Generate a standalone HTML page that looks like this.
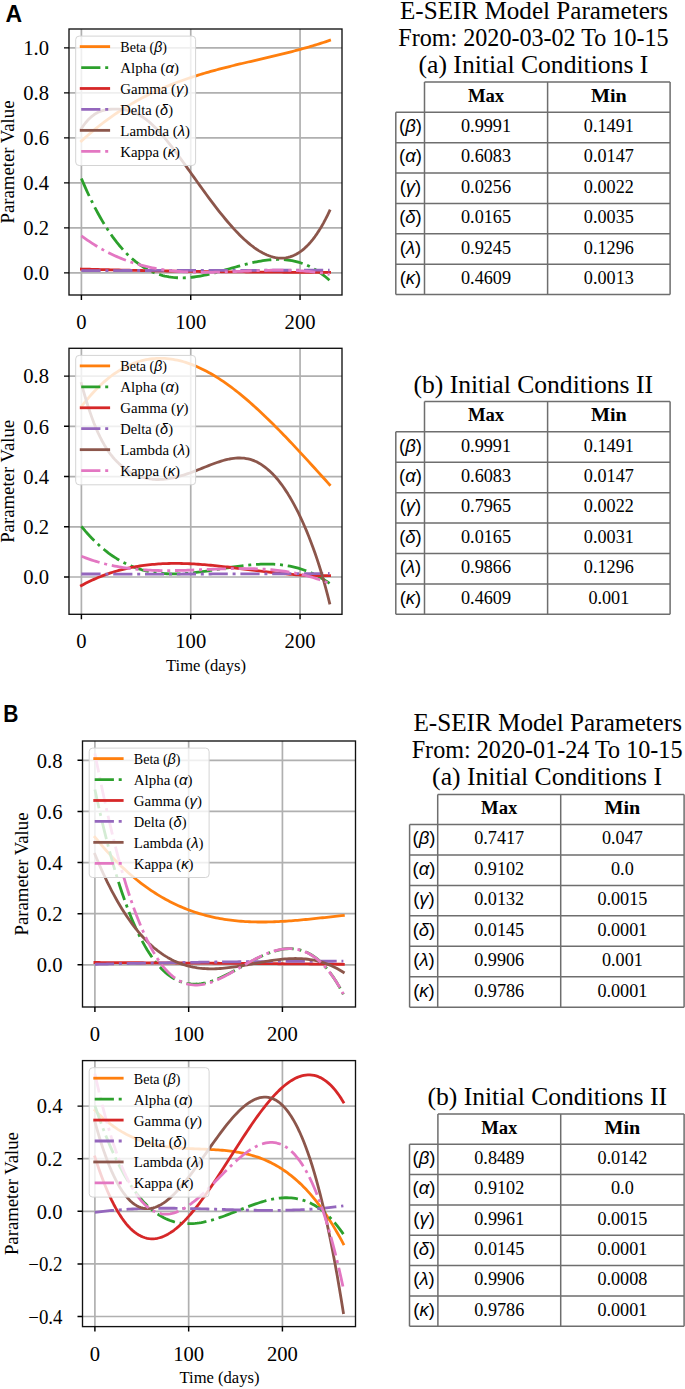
<!DOCTYPE html><html><head><meta charset="utf-8"><style>html,body{margin:0;padding:0;background:#fff;overflow:hidden;width:685px;height:1389px}svg{display:block}</style></head><body><svg width="685" height="1389" viewBox="0 0 685 1389">
<rect width="685" height="1389" fill="#fff"/>
<clipPath id="clip1"><rect x="69" y="29" width="273" height="266"/></clipPath>
<path d="M81.40 29V295M190.73 29V295M300.06 29V295M69 272.85H342M69 227.85H342M69 182.85H342M69 137.85H342M69 92.85H342M69 47.85H342" stroke="#b0b0b0" stroke-width="1.7" fill="none" clip-path="url(#clip1)"/>
<g clip-path="url(#clip1)" fill="none" stroke-width="2.8">
<path d="M81.40 141.07 L83.49 139.17 L85.57 137.30 L87.66 135.46 L89.74 133.66 L91.83 131.89 L93.91 130.15 L96.00 128.45 L98.08 126.77 L100.17 125.13 L102.26 123.51 L104.34 121.93 L106.43 120.37 L108.51 118.85 L110.60 117.35 L112.68 115.88 L114.77 114.44 L116.85 113.03 L118.94 111.65 L121.03 110.29 L123.11 108.95 L125.20 107.65 L127.28 106.37 L129.37 105.11 L131.45 103.88 L133.54 102.67 L135.62 101.49 L137.71 100.33 L139.80 99.20 L141.88 98.08 L143.97 96.99 L146.05 95.92 L148.14 94.88 L150.22 93.85 L152.31 92.84 L154.39 91.86 L156.48 90.89 L158.56 89.95 L160.65 89.02 L162.74 88.11 L164.82 87.22 L166.91 86.35 L168.99 85.50 L171.08 84.66 L173.16 83.84 L175.25 83.04 L177.33 82.25 L179.42 81.47 L181.51 80.72 L183.59 79.97 L185.68 79.24 L187.76 78.53 L189.85 77.83 L191.93 77.14 L194.02 76.46 L196.10 75.80 L198.19 75.15 L200.28 74.51 L202.36 73.88 L204.45 73.26 L206.53 72.65 L208.62 72.05 L210.70 71.46 L212.79 70.88 L214.87 70.31 L216.96 69.75 L219.05 69.19 L221.13 68.65 L223.22 68.11 L225.30 67.57 L227.39 67.04 L229.47 66.52 L231.56 66.00 L233.64 65.49 L235.73 64.98 L237.82 64.48 L239.90 63.98 L241.99 63.49 L244.07 62.99 L246.16 62.50 L248.24 62.01 L250.33 61.53 L252.41 61.04 L254.50 60.56 L256.59 60.08 L258.67 59.59 L260.76 59.11 L262.84 58.62 L264.93 58.14 L267.01 57.65 L269.10 57.16 L271.18 56.67 L273.27 56.18 L275.36 55.68 L277.44 55.18 L279.53 54.68 L281.61 54.17 L283.70 53.66 L285.78 53.14 L287.87 52.62 L289.95 52.09 L292.04 51.55 L294.12 51.01 L296.21 50.46 L298.30 49.91 L300.38 49.34 L302.47 48.77 L304.55 48.19 L306.64 47.60 L308.72 47.00 L310.81 46.39 L312.89 45.76 L314.98 45.13 L317.07 44.49 L319.15 43.84 L321.24 43.17 L323.32 42.49 L325.41 41.80 L327.49 41.10 L329.58 40.38" stroke="#ff7f0e" stroke-linecap="square" stroke-linejoin="round"/>
<path d="M81.40 178.43 L83.49 183.35 L85.57 188.10 L87.66 192.71 L89.74 197.16 L91.83 201.47 L93.91 205.63 L96.00 209.65 L98.08 213.53 L100.17 217.26 L102.26 220.86 L104.34 224.33 L106.43 227.66 L108.51 230.86 L110.60 233.93 L112.68 236.88 L114.77 239.70 L116.85 242.40 L118.94 244.99 L121.03 247.45 L123.11 249.80 L125.20 252.04 L127.28 254.17 L129.37 256.18 L131.45 258.09 L133.54 259.90 L135.62 261.61 L137.71 263.22 L139.80 264.72 L141.88 266.14 L143.97 267.46 L146.05 268.69 L148.14 269.83 L150.22 270.89 L152.31 271.86 L154.39 272.75 L156.48 273.56 L158.56 274.29 L160.65 274.94 L162.74 275.53 L164.82 276.04 L166.91 276.48 L168.99 276.86 L171.08 277.17 L173.16 277.42 L175.25 277.61 L177.33 277.75 L179.42 277.82 L181.51 277.85 L183.59 277.82 L185.68 277.74 L187.76 277.62 L189.85 277.45 L191.93 277.25 L194.02 277.00 L196.10 276.71 L198.19 276.39 L200.28 276.03 L202.36 275.64 L204.45 275.22 L206.53 274.78 L208.62 274.31 L210.70 273.82 L212.79 273.31 L214.87 272.78 L216.96 272.24 L219.05 271.68 L221.13 271.11 L223.22 270.53 L225.30 269.94 L227.39 269.35 L229.47 268.76 L231.56 268.16 L233.64 267.57 L235.73 266.98 L237.82 266.40 L239.90 265.83 L241.99 265.26 L244.07 264.71 L246.16 264.18 L248.24 263.66 L250.33 263.16 L252.41 262.69 L254.50 262.23 L256.59 261.81 L258.67 261.41 L260.76 261.04 L262.84 260.70 L264.93 260.40 L267.01 260.14 L269.10 259.92 L271.18 259.73 L273.27 259.59 L275.36 259.50 L277.44 259.45 L279.53 259.46 L281.61 259.52 L283.70 259.63 L285.78 259.80 L287.87 260.03 L289.95 260.32 L292.04 260.67 L294.12 261.09 L296.21 261.58 L298.30 262.13 L300.38 262.76 L302.47 263.47 L304.55 264.25 L306.64 265.11 L308.72 266.05 L310.81 267.07 L312.89 268.18 L314.98 269.38 L317.07 270.67 L319.15 272.04 L321.24 273.52 L323.32 275.09 L325.41 276.76 L327.49 278.53 L329.58 280.40" stroke="#2ca02c" stroke-dasharray="19.2 4.8 3 4.8" stroke-linecap="butt" stroke-linejoin="round"/>
<path d="M81.40 269.03 L83.49 269.10 L85.57 269.16 L87.66 269.21 L89.74 269.27 L91.83 269.33 L93.91 269.39 L96.00 269.45 L98.08 269.50 L100.17 269.56 L102.26 269.61 L104.34 269.66 L106.43 269.72 L108.51 269.77 L110.60 269.82 L112.68 269.87 L114.77 269.92 L116.85 269.97 L118.94 270.02 L121.03 270.07 L123.11 270.12 L125.20 270.17 L127.28 270.21 L129.37 270.26 L131.45 270.31 L133.54 270.35 L135.62 270.39 L137.71 270.44 L139.80 270.48 L141.88 270.52 L143.97 270.57 L146.05 270.61 L148.14 270.65 L150.22 270.69 L152.31 270.73 L154.39 270.77 L156.48 270.80 L158.56 270.84 L160.65 270.88 L162.74 270.92 L164.82 270.95 L166.91 270.99 L168.99 271.02 L171.08 271.06 L173.16 271.09 L175.25 271.13 L177.33 271.16 L179.42 271.19 L181.51 271.22 L183.59 271.25 L185.68 271.28 L187.76 271.32 L189.85 271.35 L191.93 271.37 L194.02 271.40 L196.10 271.43 L198.19 271.46 L200.28 271.49 L202.36 271.51 L204.45 271.54 L206.53 271.57 L208.62 271.59 L210.70 271.62 L212.79 271.64 L214.87 271.67 L216.96 271.69 L219.05 271.71 L221.13 271.74 L223.22 271.76 L225.30 271.78 L227.39 271.80 L229.47 271.82 L231.56 271.84 L233.64 271.86 L235.73 271.88 L237.82 271.90 L239.90 271.92 L241.99 271.94 L244.07 271.96 L246.16 271.98 L248.24 271.99 L250.33 272.01 L252.41 272.03 L254.50 272.04 L256.59 272.06 L258.67 272.07 L260.76 272.09 L262.84 272.10 L264.93 272.12 L267.01 272.13 L269.10 272.15 L271.18 272.16 L273.27 272.17 L275.36 272.19 L277.44 272.20 L279.53 272.21 L281.61 272.22 L283.70 272.23 L285.78 272.24 L287.87 272.26 L289.95 272.27 L292.04 272.28 L294.12 272.29 L296.21 272.29 L298.30 272.30 L300.38 272.31 L302.47 272.32 L304.55 272.33 L306.64 272.34 L308.72 272.35 L310.81 272.35 L312.89 272.36 L314.98 272.37 L317.07 272.37 L319.15 272.38 L321.24 272.39 L323.32 272.39 L325.41 272.40 L327.49 272.40 L329.58 272.41" stroke="#d62728" stroke-linecap="square" stroke-linejoin="round"/>
<path d="M81.40 270.60 L83.49 270.60 L85.57 270.59 L87.66 270.59 L89.74 270.59 L91.83 270.58 L93.91 270.58 L96.00 270.57 L98.08 270.57 L100.17 270.57 L102.26 270.56 L104.34 270.56 L106.43 270.55 L108.51 270.55 L110.60 270.55 L112.68 270.54 L114.77 270.54 L116.85 270.54 L118.94 270.53 L121.03 270.53 L123.11 270.52 L125.20 270.52 L127.28 270.52 L129.37 270.51 L131.45 270.51 L133.54 270.51 L135.62 270.50 L137.71 270.50 L139.80 270.49 L141.88 270.49 L143.97 270.49 L146.05 270.48 L148.14 270.48 L150.22 270.48 L152.31 270.47 L154.39 270.47 L156.48 270.46 L158.56 270.46 L160.65 270.46 L162.74 270.45 L164.82 270.45 L166.91 270.45 L168.99 270.44 L171.08 270.44 L173.16 270.43 L175.25 270.43 L177.33 270.43 L179.42 270.42 L181.51 270.42 L183.59 270.42 L185.68 270.41 L187.76 270.41 L189.85 270.40 L191.93 270.40 L194.02 270.40 L196.10 270.39 L198.19 270.39 L200.28 270.39 L202.36 270.38 L204.45 270.38 L206.53 270.37 L208.62 270.37 L210.70 270.37 L212.79 270.36 L214.87 270.36 L216.96 270.36 L219.05 270.35 L221.13 270.35 L223.22 270.34 L225.30 270.34 L227.39 270.34 L229.47 270.33 L231.56 270.33 L233.64 270.32 L235.73 270.32 L237.82 270.32 L239.90 270.31 L241.99 270.31 L244.07 270.31 L246.16 270.30 L248.24 270.30 L250.33 270.29 L252.41 270.29 L254.50 270.29 L256.59 270.28 L258.67 270.28 L260.76 270.28 L262.84 270.27 L264.93 270.27 L267.01 270.26 L269.10 270.26 L271.18 270.26 L273.27 270.25 L275.36 270.25 L277.44 270.25 L279.53 270.24 L281.61 270.24 L283.70 270.23 L285.78 270.23 L287.87 270.23 L289.95 270.22 L292.04 270.22 L294.12 270.21 L296.21 270.21 L298.30 270.21 L300.38 270.20 L302.47 270.20 L304.55 270.20 L306.64 270.19 L308.72 270.19 L310.81 270.18 L312.89 270.18 L314.98 270.18 L317.07 270.17 L319.15 270.17 L321.24 270.17 L323.32 270.16 L325.41 270.16 L327.49 270.15 L329.58 270.15" stroke="#9467bd" stroke-dasharray="19.2 4.8 3 4.8" stroke-linecap="butt" stroke-linejoin="round"/>
<path d="M81.40 128.61 L83.49 125.51 L85.57 122.75 L87.66 120.31 L89.74 118.19 L91.83 116.34 L93.91 114.77 L96.00 113.44 L98.08 112.33 L100.17 111.42 L102.26 110.70 L104.34 110.14 L106.43 109.73 L108.51 109.43 L110.60 109.24 L112.68 109.13 L114.77 109.08 L116.85 109.09 L118.94 109.18 L121.03 109.33 L123.11 109.58 L125.20 109.90 L127.28 110.33 L129.37 110.85 L131.45 111.48 L133.54 112.23 L135.62 113.09 L137.71 114.09 L139.80 115.21 L141.88 116.47 L143.97 117.87 L146.05 119.41 L148.14 121.06 L150.22 122.84 L152.31 124.74 L154.39 126.74 L156.48 128.84 L158.56 131.04 L160.65 133.33 L162.74 135.70 L164.82 138.16 L166.91 140.68 L168.99 143.27 L171.08 145.93 L173.16 148.63 L175.25 151.39 L177.33 154.18 L179.42 157.02 L181.51 159.88 L183.59 162.77 L185.68 165.68 L187.76 168.60 L189.85 171.52 L191.93 174.45 L194.02 177.38 L196.10 180.30 L198.19 183.22 L200.28 186.12 L202.36 189.01 L204.45 191.88 L206.53 194.74 L208.62 197.57 L210.70 200.37 L212.79 203.15 L214.87 205.89 L216.96 208.60 L219.05 211.27 L221.13 213.89 L223.22 216.48 L225.30 219.01 L227.39 221.50 L229.47 223.93 L231.56 226.30 L233.64 228.62 L235.73 230.87 L237.82 233.05 L239.90 235.17 L241.99 237.21 L244.07 239.18 L246.16 241.07 L248.24 242.87 L250.33 244.60 L252.41 246.23 L254.50 247.78 L256.59 249.23 L258.67 250.58 L260.76 251.84 L262.84 252.99 L264.93 254.03 L267.01 254.97 L269.10 255.79 L271.18 256.50 L273.27 257.08 L275.36 257.54 L277.44 257.87 L279.53 258.07 L281.61 258.12 L283.70 258.04 L285.78 257.80 L287.87 257.42 L289.95 256.87 L292.04 256.17 L294.12 255.30 L296.21 254.26 L298.30 253.05 L300.38 251.66 L302.47 250.09 L304.55 248.32 L306.64 246.37 L308.72 244.22 L310.81 241.87 L312.89 239.32 L314.98 236.55 L317.07 233.58 L319.15 230.38 L321.24 226.96 L323.32 223.32 L325.41 219.44 L327.49 215.33 L329.58 210.97" stroke="#8c564b" stroke-linecap="square" stroke-linejoin="round"/>
<path d="M81.40 235.79 L83.49 237.33 L85.57 238.83 L87.66 240.29 L89.74 241.71 L91.83 243.09 L93.91 244.43 L96.00 245.72 L98.08 246.98 L100.17 248.20 L102.26 249.38 L104.34 250.53 L106.43 251.64 L108.51 252.71 L110.60 253.74 L112.68 254.74 L114.77 255.71 L116.85 256.64 L118.94 257.54 L121.03 258.40 L123.11 259.23 L125.20 260.03 L127.28 260.80 L129.37 261.54 L131.45 262.25 L133.54 262.93 L135.62 263.58 L137.71 264.20 L139.80 264.79 L141.88 265.36 L143.97 265.90 L146.05 266.41 L148.14 266.90 L150.22 267.36 L152.31 267.79 L154.39 268.21 L156.48 268.60 L158.56 268.96 L160.65 269.31 L162.74 269.63 L164.82 269.93 L166.91 270.21 L168.99 270.47 L171.08 270.71 L173.16 270.94 L175.25 271.14 L177.33 271.33 L179.42 271.49 L181.51 271.65 L183.59 271.78 L185.68 271.90 L187.76 272.01 L189.85 272.10 L191.93 272.17 L194.02 272.23 L196.10 272.28 L198.19 272.32 L200.28 272.35 L202.36 272.36 L204.45 272.37 L206.53 272.36 L208.62 272.35 L210.70 272.32 L212.79 272.29 L214.87 272.25 L216.96 272.20 L219.05 272.15 L221.13 272.09 L223.22 272.02 L225.30 271.95 L227.39 271.87 L229.47 271.79 L231.56 271.71 L233.64 271.63 L235.73 271.54 L237.82 271.45 L239.90 271.36 L241.99 271.27 L244.07 271.18 L246.16 271.09 L248.24 271.00 L250.33 270.91 L252.41 270.83 L254.50 270.74 L256.59 270.67 L258.67 270.59 L260.76 270.52 L262.84 270.46 L264.93 270.40 L267.01 270.34 L269.10 270.30 L271.18 270.26 L273.27 270.22 L275.36 270.20 L277.44 270.19 L279.53 270.18 L281.61 270.19 L283.70 270.20 L285.78 270.23 L287.87 270.27 L289.95 270.32 L292.04 270.39 L294.12 270.47 L296.21 270.56 L298.30 270.66 L300.38 270.79 L302.47 270.92 L304.55 271.08 L306.64 271.25 L308.72 271.44 L310.81 271.64 L312.89 271.87 L314.98 272.11 L317.07 272.37 L319.15 272.66 L321.24 272.96 L323.32 273.29 L325.41 273.63 L327.49 274.00 L329.58 274.40" stroke="#e377c2" stroke-dasharray="19.2 4.8 3 4.8" stroke-linecap="butt" stroke-linejoin="round"/>
</g>
<rect x="69" y="29" width="273" height="266" fill="none" stroke="#111" stroke-width="1.35"/>
<path d="M81.40 295v5M190.73 295v5M300.06 295v5M69 272.85h-5M69 227.85h-5M69 182.85h-5M69 137.85h-5M69 92.85h-5M69 47.85h-5" stroke="#000" stroke-width="1.45"/>
<text x="81.40" y="329.00" font-family='"Liberation Serif", serif' font-size="20.6" text-anchor="middle">0</text>
<text x="190.73" y="329.00" font-family='"Liberation Serif", serif' font-size="20.6" text-anchor="middle">100</text>
<text x="300.06" y="329.00" font-family='"Liberation Serif", serif' font-size="20.6" text-anchor="middle">200</text>
<text x="49.00" y="280.15" font-family='"Liberation Serif", serif' font-size="20.6" text-anchor="end">0.0</text>
<text x="49.00" y="235.15" font-family='"Liberation Serif", serif' font-size="20.6" text-anchor="end">0.2</text>
<text x="49.00" y="190.15" font-family='"Liberation Serif", serif' font-size="20.6" text-anchor="end">0.4</text>
<text x="49.00" y="145.15" font-family='"Liberation Serif", serif' font-size="20.6" text-anchor="end">0.6</text>
<text x="49.00" y="100.15" font-family='"Liberation Serif", serif' font-size="20.6" text-anchor="end">0.8</text>
<text x="49.00" y="55.15" font-family='"Liberation Serif", serif' font-size="20.6" text-anchor="end">1.0</text>
<text transform="translate(14.1,162.0) rotate(-90)" font-family='"Liberation Serif", serif' font-size="18.3" text-anchor="middle" textLength="123" lengthAdjust="spacingAndGlyphs">Parameter Value</text>
<rect x="75.7" y="36.1" width="119.9" height="129.4" rx="3.5" fill="#fff" fill-opacity="0.8" stroke="#d4d4d4" stroke-width="1"/>
<path d="M81.2 46.60H108.7" stroke="#ff7f0e" stroke-width="2.8" stroke-linecap="square"/>
<text x="120.30000000000001" y="52.10" font-family='"Liberation Serif", serif' font-size="13.8" textLength="46.6" lengthAdjust="spacingAndGlyphs">Beta (<tspan font-family='"Liberation Sans", sans-serif' font-style="italic">β</tspan>)</text>
<path d="M81.2 67.54H108.7" stroke="#2ca02c" stroke-width="2.8" stroke-dasharray="19.2 4.8 3 4.8"/>
<text x="120.30000000000001" y="73.04" font-family='"Liberation Serif", serif' font-size="13.8" textLength="58.8" lengthAdjust="spacingAndGlyphs">Alpha (<tspan font-family='"Liberation Sans", sans-serif' font-style="italic">α</tspan>)</text>
<path d="M81.2 88.48H108.7" stroke="#d62728" stroke-width="2.8" stroke-linecap="square"/>
<text x="120.30000000000001" y="93.98" font-family='"Liberation Serif", serif' font-size="13.8" textLength="68.2" lengthAdjust="spacingAndGlyphs">Gamma (<tspan font-family='"Liberation Sans", sans-serif' font-style="italic">γ</tspan>)</text>
<path d="M81.2 109.42H108.7" stroke="#9467bd" stroke-width="2.8" stroke-dasharray="19.2 4.8 3 4.8"/>
<text x="120.30000000000001" y="114.92" font-family='"Liberation Serif", serif' font-size="13.8" textLength="52.7" lengthAdjust="spacingAndGlyphs">Delta (<tspan font-family='"Liberation Sans", sans-serif' font-style="italic">δ</tspan>)</text>
<path d="M81.2 130.36H108.7" stroke="#8c564b" stroke-width="2.8" stroke-linecap="square"/>
<text x="120.30000000000001" y="135.86" font-family='"Liberation Serif", serif' font-size="13.8" textLength="69.7" lengthAdjust="spacingAndGlyphs">Lambda (<tspan font-family='"Liberation Sans", sans-serif' font-style="italic">λ</tspan>)</text>
<path d="M81.2 151.30H108.7" stroke="#e377c2" stroke-width="2.8" stroke-dasharray="19.2 4.8 3 4.8"/>
<text x="120.30000000000001" y="156.80" font-family='"Liberation Serif", serif' font-size="13.8" textLength="59.8" lengthAdjust="spacingAndGlyphs">Kappa (<tspan font-family='"Liberation Sans", sans-serif' font-style="italic">κ</tspan>)</text>
<clipPath id="clip2"><rect x="69" y="348.3" width="273" height="266"/></clipPath>
<path d="M81.40 348.3V614.3M190.73 348.3V614.3M300.06 348.3V614.3M69 577.00H342M69 526.78H342M69 476.56H342M69 426.34H342M69 376.12H342" stroke="#b0b0b0" stroke-width="1.7" fill="none" clip-path="url(#clip2)"/>
<g clip-path="url(#clip2)" fill="none" stroke-width="2.8">
<path d="M81.40 406.65 L83.49 403.96 L85.57 401.36 L87.66 398.84 L89.74 396.41 L91.83 394.05 L93.91 391.79 L96.00 389.60 L98.08 387.49 L100.17 385.47 L102.26 383.52 L104.34 381.65 L106.43 379.86 L108.51 378.15 L110.60 376.52 L112.68 374.96 L114.77 373.47 L116.85 372.06 L118.94 370.72 L121.03 369.46 L123.11 368.27 L125.20 367.15 L127.28 366.10 L129.37 365.12 L131.45 364.21 L133.54 363.36 L135.62 362.59 L137.71 361.88 L139.80 361.24 L141.88 360.66 L143.97 360.15 L146.05 359.71 L148.14 359.32 L150.22 359.00 L152.31 358.74 L154.39 358.54 L156.48 358.40 L158.56 358.33 L160.65 358.31 L162.74 358.35 L164.82 358.44 L166.91 358.60 L168.99 358.80 L171.08 359.07 L173.16 359.39 L175.25 359.76 L177.33 360.18 L179.42 360.66 L181.51 361.19 L183.59 361.77 L185.68 362.40 L187.76 363.08 L189.85 363.81 L191.93 364.58 L194.02 365.40 L196.10 366.27 L198.19 367.19 L200.28 368.15 L202.36 369.15 L204.45 370.20 L206.53 371.29 L208.62 372.42 L210.70 373.59 L212.79 374.81 L214.87 376.06 L216.96 377.35 L219.05 378.68 L221.13 380.05 L223.22 381.46 L225.30 382.90 L227.39 384.37 L229.47 385.89 L231.56 387.43 L233.64 389.01 L235.73 390.62 L237.82 392.26 L239.90 393.93 L241.99 395.64 L244.07 397.37 L246.16 399.13 L248.24 400.92 L250.33 402.74 L252.41 404.58 L254.50 406.45 L256.59 408.34 L258.67 410.26 L260.76 412.20 L262.84 414.17 L264.93 416.15 L267.01 418.16 L269.10 420.19 L271.18 422.24 L273.27 424.31 L275.36 426.39 L277.44 428.50 L279.53 430.62 L281.61 432.75 L283.70 434.90 L285.78 437.07 L287.87 439.25 L289.95 441.45 L292.04 443.65 L294.12 445.87 L296.21 448.10 L298.30 450.34 L300.38 452.59 L302.47 454.85 L304.55 457.12 L306.64 459.39 L308.72 461.67 L310.81 463.96 L312.89 466.25 L314.98 468.54 L317.07 470.84 L319.15 473.15 L321.24 475.45 L323.32 477.76 L325.41 480.06 L327.49 482.37 L329.58 484.68" stroke="#ff7f0e" stroke-linecap="square" stroke-linejoin="round"/>
<path d="M81.40 526.37 L83.49 528.90 L85.57 531.36 L87.66 533.72 L89.74 536.01 L91.83 538.21 L93.91 540.33 L96.00 542.37 L98.08 544.33 L100.17 546.22 L102.26 548.03 L104.34 549.76 L106.43 551.43 L108.51 553.02 L110.60 554.54 L112.68 555.99 L114.77 557.37 L116.85 558.69 L118.94 559.94 L121.03 561.13 L123.11 562.25 L125.20 563.32 L127.28 564.32 L129.37 565.26 L131.45 566.15 L133.54 566.99 L135.62 567.76 L137.71 568.49 L139.80 569.16 L141.88 569.78 L143.97 570.35 L146.05 570.88 L148.14 571.35 L150.22 571.79 L152.31 572.17 L154.39 572.52 L156.48 572.82 L158.56 573.08 L160.65 573.31 L162.74 573.50 L164.82 573.65 L166.91 573.76 L168.99 573.84 L171.08 573.89 L173.16 573.91 L175.25 573.90 L177.33 573.86 L179.42 573.80 L181.51 573.71 L183.59 573.59 L185.68 573.45 L187.76 573.29 L189.85 573.11 L191.93 572.91 L194.02 572.69 L196.10 572.45 L198.19 572.20 L200.28 571.94 L202.36 571.66 L204.45 571.38 L206.53 571.08 L208.62 570.77 L210.70 570.46 L212.79 570.14 L214.87 569.82 L216.96 569.49 L219.05 569.16 L221.13 568.83 L223.22 568.50 L225.30 568.18 L227.39 567.85 L229.47 567.53 L231.56 567.22 L233.64 566.91 L235.73 566.62 L237.82 566.33 L239.90 566.05 L241.99 565.79 L244.07 565.54 L246.16 565.30 L248.24 565.08 L250.33 564.88 L252.41 564.70 L254.50 564.54 L256.59 564.40 L258.67 564.28 L260.76 564.19 L262.84 564.12 L264.93 564.08 L267.01 564.07 L269.10 564.09 L271.18 564.14 L273.27 564.22 L275.36 564.33 L277.44 564.48 L279.53 564.67 L281.61 564.89 L283.70 565.15 L285.78 565.46 L287.87 565.80 L289.95 566.19 L292.04 566.62 L294.12 567.09 L296.21 567.61 L298.30 568.18 L300.38 568.80 L302.47 569.47 L304.55 570.20 L306.64 570.97 L308.72 571.80 L310.81 572.69 L312.89 573.63 L314.98 574.64 L317.07 575.70 L319.15 576.82 L321.24 578.01 L323.32 579.26 L325.41 580.57 L327.49 581.95 L329.58 583.40" stroke="#2ca02c" stroke-dasharray="19.2 4.8 3 4.8" stroke-linecap="butt" stroke-linejoin="round"/>
<path d="M81.40 585.51 L83.49 584.40 L85.57 583.32 L87.66 582.28 L89.74 581.27 L91.83 580.30 L93.91 579.36 L96.00 578.45 L98.08 577.57 L100.17 576.72 L102.26 575.90 L104.34 575.12 L106.43 574.36 L108.51 573.64 L110.60 572.94 L112.68 572.27 L114.77 571.63 L116.85 571.02 L118.94 570.43 L121.03 569.88 L123.11 569.35 L125.20 568.84 L127.28 568.36 L129.37 567.91 L131.45 567.48 L133.54 567.07 L135.62 566.69 L137.71 566.33 L139.80 566.00 L141.88 565.69 L143.97 565.40 L146.05 565.13 L148.14 564.88 L150.22 564.66 L152.31 564.45 L154.39 564.27 L156.48 564.10 L158.56 563.96 L160.65 563.83 L162.74 563.72 L164.82 563.63 L166.91 563.55 L168.99 563.50 L171.08 563.46 L173.16 563.43 L175.25 563.42 L177.33 563.43 L179.42 563.45 L181.51 563.48 L183.59 563.53 L185.68 563.60 L187.76 563.67 L189.85 563.76 L191.93 563.86 L194.02 563.97 L196.10 564.10 L198.19 564.23 L200.28 564.38 L202.36 564.53 L204.45 564.70 L206.53 564.87 L208.62 565.05 L210.70 565.24 L212.79 565.44 L214.87 565.65 L216.96 565.86 L219.05 566.08 L221.13 566.31 L223.22 566.54 L225.30 566.77 L227.39 567.01 L229.47 567.26 L231.56 567.51 L233.64 567.76 L235.73 568.02 L237.82 568.28 L239.90 568.54 L241.99 568.80 L244.07 569.06 L246.16 569.33 L248.24 569.59 L250.33 569.86 L252.41 570.12 L254.50 570.38 L256.59 570.65 L258.67 570.91 L260.76 571.16 L262.84 571.42 L264.93 571.67 L267.01 571.92 L269.10 572.17 L271.18 572.41 L273.27 572.64 L275.36 572.87 L277.44 573.10 L279.53 573.32 L281.61 573.53 L283.70 573.73 L285.78 573.93 L287.87 574.12 L289.95 574.30 L292.04 574.48 L294.12 574.64 L296.21 574.79 L298.30 574.94 L300.38 575.07 L302.47 575.19 L304.55 575.30 L306.64 575.40 L308.72 575.49 L310.81 575.57 L312.89 575.63 L314.98 575.68 L317.07 575.71 L319.15 575.73 L321.24 575.73 L323.32 575.72 L325.41 575.70 L327.49 575.66 L329.58 575.60" stroke="#d62728" stroke-linecap="square" stroke-linejoin="round"/>
<path d="M81.40 573.99 L83.49 573.99 L85.57 574.00 L87.66 574.00 L89.74 574.00 L91.83 574.01 L93.91 574.01 L96.00 574.01 L98.08 574.02 L100.17 574.02 L102.26 574.02 L104.34 574.03 L106.43 574.03 L108.51 574.03 L110.60 574.03 L112.68 574.03 L114.77 574.04 L116.85 574.04 L118.94 574.04 L121.03 574.04 L123.11 574.04 L125.20 574.04 L127.28 574.05 L129.37 574.05 L131.45 574.05 L133.54 574.05 L135.62 574.05 L137.71 574.05 L139.80 574.05 L141.88 574.05 L143.97 574.05 L146.05 574.05 L148.14 574.05 L150.22 574.05 L152.31 574.05 L154.39 574.05 L156.48 574.05 L158.56 574.05 L160.65 574.05 L162.74 574.04 L164.82 574.04 L166.91 574.04 L168.99 574.04 L171.08 574.04 L173.16 574.04 L175.25 574.03 L177.33 574.03 L179.42 574.03 L181.51 574.03 L183.59 574.02 L185.68 574.02 L187.76 574.02 L189.85 574.02 L191.93 574.01 L194.02 574.01 L196.10 574.01 L198.19 574.00 L200.28 574.00 L202.36 573.99 L204.45 573.99 L206.53 573.99 L208.62 573.98 L210.70 573.98 L212.79 573.97 L214.87 573.97 L216.96 573.96 L219.05 573.96 L221.13 573.95 L223.22 573.95 L225.30 573.94 L227.39 573.94 L229.47 573.93 L231.56 573.92 L233.64 573.92 L235.73 573.91 L237.82 573.91 L239.90 573.90 L241.99 573.89 L244.07 573.89 L246.16 573.88 L248.24 573.87 L250.33 573.86 L252.41 573.86 L254.50 573.85 L256.59 573.84 L258.67 573.83 L260.76 573.83 L262.84 573.82 L264.93 573.81 L267.01 573.80 L269.10 573.79 L271.18 573.78 L273.27 573.78 L275.36 573.77 L277.44 573.76 L279.53 573.75 L281.61 573.74 L283.70 573.73 L285.78 573.72 L287.87 573.71 L289.95 573.70 L292.04 573.69 L294.12 573.68 L296.21 573.67 L298.30 573.66 L300.38 573.65 L302.47 573.64 L304.55 573.63 L306.64 573.62 L308.72 573.60 L310.81 573.59 L312.89 573.58 L314.98 573.57 L317.07 573.56 L319.15 573.55 L321.24 573.53 L323.32 573.52 L325.41 573.51 L327.49 573.50 L329.58 573.48" stroke="#9467bd" stroke-dasharray="19.2 4.8 3 4.8" stroke-linecap="butt" stroke-linejoin="round"/>
<path d="M81.40 383.55 L83.49 391.08 L85.57 398.24 L87.66 405.01 L89.74 411.39 L91.83 417.37 L93.91 422.94 L96.00 428.10 L98.08 432.85 L100.17 437.21 L102.26 441.23 L104.34 444.92 L106.43 448.33 L108.51 451.45 L110.60 454.33 L112.68 456.96 L114.77 459.37 L116.85 461.58 L118.94 463.60 L121.03 465.45 L123.11 467.15 L125.20 468.71 L127.28 470.15 L129.37 471.47 L131.45 472.68 L133.54 473.78 L135.62 474.77 L137.71 475.66 L139.80 476.45 L141.88 477.14 L143.97 477.73 L146.05 478.24 L148.14 478.65 L150.22 478.98 L152.31 479.23 L154.39 479.40 L156.48 479.49 L158.56 479.50 L160.65 479.45 L162.74 479.33 L164.82 479.14 L166.91 478.89 L168.99 478.58 L171.08 478.22 L173.16 477.81 L175.25 477.34 L177.33 476.83 L179.42 476.27 L181.51 475.68 L183.59 475.05 L185.68 474.38 L187.76 473.68 L189.85 472.95 L191.93 472.20 L194.02 471.42 L196.10 470.62 L198.19 469.81 L200.28 468.99 L202.36 468.15 L204.45 467.31 L206.53 466.47 L208.62 465.64 L210.70 464.82 L212.79 464.03 L214.87 463.25 L216.96 462.51 L219.05 461.80 L221.13 461.13 L223.22 460.51 L225.30 459.95 L227.39 459.44 L229.47 459.00 L231.56 458.63 L233.64 458.34 L235.73 458.13 L237.82 458.01 L239.90 457.98 L241.99 458.05 L244.07 458.23 L246.16 458.52 L248.24 458.93 L250.33 459.46 L252.41 460.11 L254.50 460.91 L256.59 461.84 L258.67 462.92 L260.76 464.15 L262.84 465.54 L264.93 467.09 L267.01 468.77 L269.10 470.59 L271.18 472.53 L273.27 474.60 L275.36 476.83 L277.44 479.22 L279.53 481.79 L281.61 484.54 L283.70 487.48 L285.78 490.60 L287.87 493.87 L289.95 497.30 L292.04 500.89 L294.12 504.66 L296.21 508.60 L298.30 512.72 L300.38 517.03 L302.47 521.53 L304.55 526.24 L306.64 531.16 L308.72 536.29 L310.81 541.64 L312.89 547.22 L314.98 553.04 L317.07 559.14 L319.15 565.53 L321.24 572.26 L323.32 579.35 L325.41 586.83 L327.49 594.73 L329.58 603.08" stroke="#8c564b" stroke-linecap="square" stroke-linejoin="round"/>
<path d="M81.40 556.21 L83.49 557.04 L85.57 557.84 L87.66 558.61 L89.74 559.35 L91.83 560.06 L93.91 560.74 L96.00 561.40 L98.08 562.02 L100.17 562.62 L102.26 563.19 L104.34 563.74 L106.43 564.26 L108.51 564.75 L110.60 565.22 L112.68 565.67 L114.77 566.09 L116.85 566.49 L118.94 566.87 L121.03 567.23 L123.11 567.56 L125.20 567.87 L127.28 568.17 L129.37 568.44 L131.45 568.69 L133.54 568.93 L135.62 569.15 L137.71 569.35 L139.80 569.53 L141.88 569.69 L143.97 569.84 L146.05 569.98 L148.14 570.10 L150.22 570.20 L152.31 570.29 L154.39 570.37 L156.48 570.44 L158.56 570.49 L160.65 570.53 L162.74 570.56 L164.82 570.58 L166.91 570.58 L168.99 570.58 L171.08 570.57 L173.16 570.55 L175.25 570.52 L177.33 570.49 L179.42 570.45 L181.51 570.40 L183.59 570.34 L185.68 570.28 L187.76 570.22 L189.85 570.15 L191.93 570.08 L194.02 570.00 L196.10 569.92 L198.19 569.84 L200.28 569.76 L202.36 569.68 L204.45 569.59 L206.53 569.51 L208.62 569.42 L210.70 569.34 L212.79 569.26 L214.87 569.18 L216.96 569.10 L219.05 569.03 L221.13 568.95 L223.22 568.89 L225.30 568.83 L227.39 568.77 L229.47 568.72 L231.56 568.68 L233.64 568.64 L235.73 568.61 L237.82 568.59 L239.90 568.57 L241.99 568.57 L244.07 568.57 L246.16 568.59 L248.24 568.61 L250.33 568.65 L252.41 568.69 L254.50 568.75 L256.59 568.83 L258.67 568.91 L260.76 569.01 L262.84 569.13 L264.93 569.25 L267.01 569.40 L269.10 569.56 L271.18 569.73 L273.27 569.93 L275.36 570.14 L277.44 570.37 L279.53 570.61 L281.61 570.88 L283.70 571.17 L285.78 571.47 L287.87 571.80 L289.95 572.15 L292.04 572.51 L294.12 572.91 L296.21 573.32 L298.30 573.76 L300.38 574.22 L302.47 574.71 L304.55 575.22 L306.64 575.75 L308.72 576.32 L310.81 576.90 L312.89 577.52 L314.98 578.16 L317.07 578.84 L319.15 579.54 L321.24 580.26 L323.32 581.02 L325.41 581.81 L327.49 582.63 L329.58 583.48" stroke="#e377c2" stroke-dasharray="19.2 4.8 3 4.8" stroke-linecap="butt" stroke-linejoin="round"/>
</g>
<rect x="69" y="348.3" width="273" height="266" fill="none" stroke="#111" stroke-width="1.35"/>
<path d="M81.40 614.3v5M190.73 614.3v5M300.06 614.3v5M69 577.00h-5M69 526.78h-5M69 476.56h-5M69 426.34h-5M69 376.12h-5" stroke="#000" stroke-width="1.45"/>
<text x="81.40" y="648.30" font-family='"Liberation Serif", serif' font-size="20.6" text-anchor="middle">0</text>
<text x="190.73" y="648.30" font-family='"Liberation Serif", serif' font-size="20.6" text-anchor="middle">100</text>
<text x="300.06" y="648.30" font-family='"Liberation Serif", serif' font-size="20.6" text-anchor="middle">200</text>
<text x="49.00" y="584.30" font-family='"Liberation Serif", serif' font-size="20.6" text-anchor="end">0.0</text>
<text x="49.00" y="534.08" font-family='"Liberation Serif", serif' font-size="20.6" text-anchor="end">0.2</text>
<text x="49.00" y="483.86" font-family='"Liberation Serif", serif' font-size="20.6" text-anchor="end">0.4</text>
<text x="49.00" y="433.64" font-family='"Liberation Serif", serif' font-size="20.6" text-anchor="end">0.6</text>
<text x="49.00" y="383.42" font-family='"Liberation Serif", serif' font-size="20.6" text-anchor="end">0.8</text>
<text transform="translate(14.1,481.3) rotate(-90)" font-family='"Liberation Serif", serif' font-size="18.3" text-anchor="middle" textLength="123" lengthAdjust="spacingAndGlyphs">Parameter Value</text>
<text x="206.0" y="670.60" font-family='"Liberation Serif", serif' font-size="16.1" text-anchor="middle" textLength="80" lengthAdjust="spacingAndGlyphs">Time (days)</text>
<rect x="75.7" y="355.40000000000003" width="119.9" height="129.4" rx="3.5" fill="#fff" fill-opacity="0.8" stroke="#d4d4d4" stroke-width="1"/>
<path d="M81.2 365.90H108.7" stroke="#ff7f0e" stroke-width="2.8" stroke-linecap="square"/>
<text x="120.30000000000001" y="371.40" font-family='"Liberation Serif", serif' font-size="13.8" textLength="46.6" lengthAdjust="spacingAndGlyphs">Beta (<tspan font-family='"Liberation Sans", sans-serif' font-style="italic">β</tspan>)</text>
<path d="M81.2 386.84H108.7" stroke="#2ca02c" stroke-width="2.8" stroke-dasharray="19.2 4.8 3 4.8"/>
<text x="120.30000000000001" y="392.34" font-family='"Liberation Serif", serif' font-size="13.8" textLength="58.8" lengthAdjust="spacingAndGlyphs">Alpha (<tspan font-family='"Liberation Sans", sans-serif' font-style="italic">α</tspan>)</text>
<path d="M81.2 407.78H108.7" stroke="#d62728" stroke-width="2.8" stroke-linecap="square"/>
<text x="120.30000000000001" y="413.28" font-family='"Liberation Serif", serif' font-size="13.8" textLength="68.2" lengthAdjust="spacingAndGlyphs">Gamma (<tspan font-family='"Liberation Sans", sans-serif' font-style="italic">γ</tspan>)</text>
<path d="M81.2 428.72H108.7" stroke="#9467bd" stroke-width="2.8" stroke-dasharray="19.2 4.8 3 4.8"/>
<text x="120.30000000000001" y="434.22" font-family='"Liberation Serif", serif' font-size="13.8" textLength="52.7" lengthAdjust="spacingAndGlyphs">Delta (<tspan font-family='"Liberation Sans", sans-serif' font-style="italic">δ</tspan>)</text>
<path d="M81.2 449.66H108.7" stroke="#8c564b" stroke-width="2.8" stroke-linecap="square"/>
<text x="120.30000000000001" y="455.16" font-family='"Liberation Serif", serif' font-size="13.8" textLength="69.7" lengthAdjust="spacingAndGlyphs">Lambda (<tspan font-family='"Liberation Sans", sans-serif' font-style="italic">λ</tspan>)</text>
<path d="M81.2 470.60H108.7" stroke="#e377c2" stroke-width="2.8" stroke-dasharray="19.2 4.8 3 4.8"/>
<text x="120.30000000000001" y="476.10" font-family='"Liberation Serif", serif' font-size="13.8" textLength="59.8" lengthAdjust="spacingAndGlyphs">Kappa (<tspan font-family='"Liberation Sans", sans-serif' font-style="italic">κ</tspan>)</text>
<clipPath id="clip3"><rect x="82.5" y="741.0" width="273" height="266"/></clipPath>
<path d="M94.90 741.0V1007.0M188.66 741.0V1007.0M282.42 741.0V1007.0M82.5 964.80H355.5M82.5 913.68H355.5M82.5 862.56H355.5M82.5 811.44H355.5M82.5 760.32H355.5" stroke="#b0b0b0" stroke-width="1.7" fill="none" clip-path="url(#clip3)"/>
<g clip-path="url(#clip3)" fill="none" stroke-width="2.8">
<path d="M94.90 837.10 L96.99 839.69 L99.08 842.22 L101.16 844.71 L103.25 847.14 L105.34 849.53 L107.43 851.87 L109.52 854.16 L111.60 856.40 L113.69 858.60 L115.78 860.75 L117.87 862.85 L119.96 864.90 L122.04 866.91 L124.13 868.88 L126.22 870.80 L128.31 872.68 L130.39 874.51 L132.48 876.30 L134.57 878.05 L136.66 879.75 L138.75 881.42 L140.83 883.04 L142.92 884.62 L145.01 886.16 L147.10 887.66 L149.19 889.12 L151.27 890.55 L153.36 891.93 L155.45 893.28 L157.54 894.59 L159.63 895.86 L161.71 897.09 L163.80 898.29 L165.89 899.45 L167.98 900.58 L170.07 901.67 L172.15 902.72 L174.24 903.75 L176.33 904.74 L178.42 905.69 L180.51 906.62 L182.59 907.51 L184.68 908.37 L186.77 909.20 L188.86 909.99 L190.94 910.76 L193.03 911.50 L195.12 912.21 L197.21 912.89 L199.30 913.54 L201.38 914.16 L203.47 914.75 L205.56 915.32 L207.65 915.86 L209.74 916.37 L211.82 916.86 L213.91 917.33 L216.00 917.76 L218.09 918.18 L220.18 918.57 L222.26 918.93 L224.35 919.28 L226.44 919.60 L228.53 919.89 L230.62 920.17 L232.70 920.43 L234.79 920.66 L236.88 920.87 L238.97 921.07 L241.06 921.24 L243.14 921.40 L245.23 921.54 L247.32 921.66 L249.41 921.76 L251.49 921.84 L253.58 921.91 L255.67 921.96 L257.76 922.00 L259.85 922.02 L261.93 922.02 L264.02 922.01 L266.11 921.99 L268.20 921.95 L270.29 921.90 L272.37 921.84 L274.46 921.77 L276.55 921.68 L278.64 921.58 L280.73 921.47 L282.81 921.36 L284.90 921.23 L286.99 921.09 L289.08 920.94 L291.17 920.79 L293.25 920.62 L295.34 920.45 L297.43 920.28 L299.52 920.09 L301.61 919.90 L303.69 919.70 L305.78 919.50 L307.87 919.29 L309.96 919.08 L312.05 918.87 L314.13 918.65 L316.22 918.43 L318.31 918.20 L320.40 917.98 L322.48 917.75 L324.57 917.52 L326.66 917.29 L328.75 917.06 L330.84 916.83 L332.92 916.60 L335.01 916.37 L337.10 916.14 L339.19 915.92 L341.28 915.70 L343.36 915.48" stroke="#ff7f0e" stroke-linecap="square" stroke-linejoin="round"/>
<path d="M94.90 789.49 L96.99 799.19 L99.08 808.57 L101.16 817.66 L103.25 826.44 L105.34 834.93 L107.43 843.13 L109.52 851.05 L111.60 858.68 L113.69 866.03 L115.78 873.12 L117.87 879.93 L119.96 886.48 L122.04 892.78 L124.13 898.81 L126.22 904.60 L128.31 910.14 L130.39 915.44 L132.48 920.50 L134.57 925.33 L136.66 929.93 L138.75 934.31 L140.83 938.47 L142.92 942.41 L145.01 946.15 L147.10 949.67 L149.19 953.00 L151.27 956.13 L153.36 959.06 L155.45 961.81 L157.54 964.37 L159.63 966.76 L161.71 968.96 L163.80 971.00 L165.89 972.87 L167.98 974.58 L170.07 976.14 L172.15 977.54 L174.24 978.79 L176.33 979.90 L178.42 980.86 L180.51 981.70 L182.59 982.40 L184.68 982.97 L186.77 983.43 L188.86 983.76 L190.94 983.99 L193.03 984.10 L195.12 984.11 L197.21 984.02 L199.30 983.84 L201.38 983.57 L203.47 983.20 L205.56 982.76 L207.65 982.24 L209.74 981.64 L211.82 980.98 L213.91 980.25 L216.00 979.47 L218.09 978.63 L220.18 977.73 L222.26 976.79 L224.35 975.81 L226.44 974.79 L228.53 973.74 L230.62 972.66 L232.70 971.55 L234.79 970.42 L236.88 969.28 L238.97 968.13 L241.06 966.97 L243.14 965.81 L245.23 964.65 L247.32 963.50 L249.41 962.36 L251.49 961.23 L253.58 960.12 L255.67 959.04 L257.76 957.99 L259.85 956.97 L261.93 955.99 L264.02 955.05 L266.11 954.15 L268.20 953.31 L270.29 952.52 L272.37 951.80 L274.46 951.13 L276.55 950.54 L278.64 950.02 L280.73 949.57 L282.81 949.21 L284.90 948.94 L286.99 948.75 L289.08 948.66 L291.17 948.67 L293.25 948.79 L295.34 949.01 L297.43 949.35 L299.52 949.80 L301.61 950.38 L303.69 951.08 L305.78 951.91 L307.87 952.88 L309.96 953.98 L312.05 955.24 L314.13 956.63 L316.22 958.19 L318.31 959.90 L320.40 961.77 L322.48 963.81 L324.57 966.01 L326.66 968.40 L328.75 970.96 L330.84 973.71 L332.92 976.64 L335.01 979.77 L337.10 983.09 L339.19 986.62 L341.28 990.35 L343.36 994.30" stroke="#2ca02c" stroke-dasharray="19.2 4.8 3 4.8" stroke-linecap="butt" stroke-linejoin="round"/>
<path d="M94.90 962.50 L96.99 962.51 L99.08 962.52 L101.16 962.53 L103.25 962.54 L105.34 962.55 L107.43 962.57 L109.52 962.58 L111.60 962.59 L113.69 962.60 L115.78 962.61 L117.87 962.62 L119.96 962.63 L122.04 962.65 L124.13 962.66 L126.22 962.67 L128.31 962.68 L130.39 962.69 L132.48 962.71 L134.57 962.72 L136.66 962.73 L138.75 962.74 L140.83 962.76 L142.92 962.77 L145.01 962.78 L147.10 962.79 L149.19 962.81 L151.27 962.82 L153.36 962.83 L155.45 962.84 L157.54 962.86 L159.63 962.87 L161.71 962.88 L163.80 962.90 L165.89 962.91 L167.98 962.92 L170.07 962.94 L172.15 962.95 L174.24 962.96 L176.33 962.98 L178.42 962.99 L180.51 963.00 L182.59 963.02 L184.68 963.03 L186.77 963.05 L188.86 963.06 L190.94 963.07 L193.03 963.09 L195.12 963.10 L197.21 963.12 L199.30 963.13 L201.38 963.14 L203.47 963.16 L205.56 963.17 L207.65 963.19 L209.74 963.20 L211.82 963.22 L213.91 963.23 L216.00 963.25 L218.09 963.26 L220.18 963.28 L222.26 963.29 L224.35 963.31 L226.44 963.32 L228.53 963.34 L230.62 963.35 L232.70 963.37 L234.79 963.38 L236.88 963.40 L238.97 963.42 L241.06 963.43 L243.14 963.45 L245.23 963.46 L247.32 963.48 L249.41 963.50 L251.49 963.51 L253.58 963.53 L255.67 963.54 L257.76 963.56 L259.85 963.58 L261.93 963.59 L264.02 963.61 L266.11 963.63 L268.20 963.64 L270.29 963.66 L272.37 963.68 L274.46 963.69 L276.55 963.71 L278.64 963.73 L280.73 963.74 L282.81 963.76 L284.90 963.78 L286.99 963.80 L289.08 963.81 L291.17 963.83 L293.25 963.85 L295.34 963.87 L297.43 963.88 L299.52 963.90 L301.61 963.92 L303.69 963.94 L305.78 963.95 L307.87 963.97 L309.96 963.99 L312.05 964.01 L314.13 964.03 L316.22 964.04 L318.31 964.06 L320.40 964.08 L322.48 964.10 L324.57 964.12 L326.66 964.14 L328.75 964.16 L330.84 964.17 L332.92 964.19 L335.01 964.21 L337.10 964.23 L339.19 964.25 L341.28 964.27 L343.36 964.29" stroke="#d62728" stroke-linecap="square" stroke-linejoin="round"/>
<path d="M94.90 964.29 L96.99 964.24 L99.08 964.19 L101.16 964.14 L103.25 964.09 L105.34 964.04 L107.43 963.99 L109.52 963.94 L111.60 963.89 L113.69 963.84 L115.78 963.79 L117.87 963.75 L119.96 963.70 L122.04 963.65 L124.13 963.61 L126.22 963.56 L128.31 963.52 L130.39 963.47 L132.48 963.43 L134.57 963.38 L136.66 963.34 L138.75 963.30 L140.83 963.26 L142.92 963.21 L145.01 963.17 L147.10 963.13 L149.19 963.09 L151.27 963.05 L153.36 963.01 L155.45 962.97 L157.54 962.93 L159.63 962.89 L161.71 962.86 L163.80 962.82 L165.89 962.78 L167.98 962.75 L170.07 962.71 L172.15 962.67 L174.24 962.64 L176.33 962.60 L178.42 962.57 L180.51 962.53 L182.59 962.50 L184.68 962.47 L186.77 962.43 L188.86 962.40 L190.94 962.37 L193.03 962.34 L195.12 962.31 L197.21 962.28 L199.30 962.25 L201.38 962.22 L203.47 962.19 L205.56 962.16 L207.65 962.13 L209.74 962.10 L211.82 962.08 L213.91 962.05 L216.00 962.02 L218.09 962.00 L220.18 961.97 L222.26 961.94 L224.35 961.92 L226.44 961.90 L228.53 961.87 L230.62 961.85 L232.70 961.82 L234.79 961.80 L236.88 961.78 L238.97 961.76 L241.06 961.74 L243.14 961.72 L245.23 961.69 L247.32 961.67 L249.41 961.65 L251.49 961.64 L253.58 961.62 L255.67 961.60 L257.76 961.58 L259.85 961.56 L261.93 961.55 L264.02 961.53 L266.11 961.51 L268.20 961.50 L270.29 961.48 L272.37 961.47 L274.46 961.45 L276.55 961.44 L278.64 961.43 L280.73 961.41 L282.81 961.40 L284.90 961.39 L286.99 961.38 L289.08 961.36 L291.17 961.35 L293.25 961.34 L295.34 961.33 L297.43 961.32 L299.52 961.31 L301.61 961.30 L303.69 961.30 L305.78 961.29 L307.87 961.28 L309.96 961.27 L312.05 961.27 L314.13 961.26 L316.22 961.26 L318.31 961.25 L320.40 961.25 L322.48 961.24 L324.57 961.24 L326.66 961.23 L328.75 961.23 L330.84 961.23 L332.92 961.23 L335.01 961.22 L337.10 961.22 L339.19 961.22 L341.28 961.22 L343.36 961.22" stroke="#9467bd" stroke-dasharray="19.2 4.8 3 4.8" stroke-linecap="butt" stroke-linejoin="round"/>
<path d="M94.90 854.27 L96.99 859.29 L99.08 864.16 L101.16 868.89 L103.25 873.49 L105.34 877.95 L107.43 882.27 L109.52 886.46 L111.60 890.52 L113.69 894.46 L115.78 898.26 L117.87 901.94 L119.96 905.50 L122.04 908.93 L124.13 912.25 L126.22 915.45 L128.31 918.53 L130.39 921.50 L132.48 924.36 L134.57 927.10 L136.66 929.74 L138.75 932.28 L140.83 934.71 L142.92 937.03 L145.01 939.26 L147.10 941.39 L149.19 943.42 L151.27 945.35 L153.36 947.20 L155.45 948.95 L157.54 950.61 L159.63 952.19 L161.71 953.68 L163.80 955.09 L165.89 956.42 L167.98 957.66 L170.07 958.83 L172.15 959.92 L174.24 960.94 L176.33 961.89 L178.42 962.77 L180.51 963.58 L182.59 964.32 L184.68 965.00 L186.77 965.61 L188.86 966.17 L190.94 966.67 L193.03 967.11 L195.12 967.49 L197.21 967.82 L199.30 968.10 L201.38 968.33 L203.47 968.52 L205.56 968.66 L207.65 968.75 L209.74 968.81 L211.82 968.82 L213.91 968.79 L216.00 968.73 L218.09 968.64 L220.18 968.51 L222.26 968.36 L224.35 968.17 L226.44 967.96 L228.53 967.72 L230.62 967.46 L232.70 967.18 L234.79 966.89 L236.88 966.57 L238.97 966.24 L241.06 965.89 L243.14 965.54 L245.23 965.17 L247.32 964.80 L249.41 964.42 L251.49 964.04 L253.58 963.66 L255.67 963.27 L257.76 962.89 L259.85 962.51 L261.93 962.14 L264.02 961.78 L266.11 961.42 L268.20 961.08 L270.29 960.75 L272.37 960.43 L274.46 960.14 L276.55 959.86 L278.64 959.60 L280.73 959.36 L282.81 959.15 L284.90 958.97 L286.99 958.81 L289.08 958.69 L291.17 958.59 L293.25 958.53 L295.34 958.51 L297.43 958.53 L299.52 958.58 L301.61 958.68 L303.69 958.82 L305.78 959.00 L307.87 959.24 L309.96 959.52 L312.05 959.85 L314.13 960.24 L316.22 960.68 L318.31 961.18 L320.40 961.74 L322.48 962.36 L324.57 963.04 L326.66 963.78 L328.75 964.60 L330.84 965.48 L332.92 966.43 L335.01 967.45 L337.10 968.55 L339.19 969.72 L341.28 970.97 L343.36 972.30" stroke="#8c564b" stroke-linecap="square" stroke-linejoin="round"/>
<path d="M94.90 753.55 L96.99 764.03 L99.08 774.29 L101.16 784.34 L103.25 794.17 L105.34 803.76 L107.43 813.12 L109.52 822.23 L111.60 831.08 L113.69 839.68 L115.78 848.00 L117.87 856.05 L119.96 863.81 L122.04 871.28 L124.13 878.46 L126.22 885.35 L128.31 891.96 L130.39 898.29 L132.48 904.36 L134.57 910.16 L136.66 915.72 L138.75 921.03 L140.83 926.11 L142.92 930.96 L145.01 935.60 L147.10 940.01 L149.19 944.20 L151.27 948.17 L153.36 951.91 L155.45 955.43 L157.54 958.73 L159.63 961.81 L161.71 964.66 L163.80 967.30 L165.89 969.73 L167.98 971.96 L170.07 973.99 L172.15 975.83 L174.24 977.48 L176.33 978.95 L178.42 980.25 L180.51 981.38 L182.59 982.35 L184.68 983.16 L186.77 983.82 L188.86 984.33 L190.94 984.71 L193.03 984.95 L195.12 985.06 L197.21 985.05 L199.30 984.92 L201.38 984.69 L203.47 984.35 L205.56 983.91 L207.65 983.38 L209.74 982.76 L211.82 982.06 L213.91 981.28 L216.00 980.44 L218.09 979.53 L220.18 978.56 L222.26 977.54 L224.35 976.47 L226.44 975.37 L228.53 974.22 L230.62 973.05 L232.70 971.86 L234.79 970.65 L236.88 969.42 L238.97 968.19 L241.06 966.96 L243.14 965.74 L245.23 964.52 L247.32 963.33 L249.41 962.14 L251.49 960.99 L253.58 959.86 L255.67 958.76 L257.76 957.69 L259.85 956.66 L261.93 955.68 L264.02 954.74 L266.11 953.86 L268.20 953.03 L270.29 952.25 L272.37 951.54 L274.46 950.90 L276.55 950.33 L278.64 949.84 L280.73 949.42 L282.81 949.09 L284.90 948.85 L286.99 948.70 L289.08 948.64 L291.17 948.68 L293.25 948.83 L295.34 949.08 L297.43 949.45 L299.52 949.93 L301.61 950.53 L303.69 951.26 L305.78 952.11 L307.87 953.10 L309.96 954.22 L312.05 955.49 L314.13 956.90 L316.22 958.45 L318.31 960.16 L320.40 962.03 L322.48 964.05 L324.57 966.24 L326.66 968.60 L328.75 971.13 L330.84 973.84 L332.92 976.73 L335.01 979.80 L337.10 983.07 L339.19 986.52 L341.28 990.18 L343.36 994.03" stroke="#e377c2" stroke-dasharray="19.2 4.8 3 4.8" stroke-linecap="butt" stroke-linejoin="round"/>
</g>
<rect x="82.5" y="741.0" width="273" height="266" fill="none" stroke="#111" stroke-width="1.35"/>
<path d="M94.90 1007.0v5M188.66 1007.0v5M282.42 1007.0v5M82.5 964.80h-5M82.5 913.68h-5M82.5 862.56h-5M82.5 811.44h-5M82.5 760.32h-5" stroke="#000" stroke-width="1.45"/>
<text x="94.90" y="1041.00" font-family='"Liberation Serif", serif' font-size="20.6" text-anchor="middle">0</text>
<text x="188.66" y="1041.00" font-family='"Liberation Serif", serif' font-size="20.6" text-anchor="middle">100</text>
<text x="282.42" y="1041.00" font-family='"Liberation Serif", serif' font-size="20.6" text-anchor="middle">200</text>
<text x="62.50" y="972.10" font-family='"Liberation Serif", serif' font-size="20.6" text-anchor="end">0.0</text>
<text x="62.50" y="920.98" font-family='"Liberation Serif", serif' font-size="20.6" text-anchor="end">0.2</text>
<text x="62.50" y="869.86" font-family='"Liberation Serif", serif' font-size="20.6" text-anchor="end">0.4</text>
<text x="62.50" y="818.74" font-family='"Liberation Serif", serif' font-size="20.6" text-anchor="end">0.6</text>
<text x="62.50" y="767.62" font-family='"Liberation Serif", serif' font-size="20.6" text-anchor="end">0.8</text>
<text transform="translate(28.2,874.0) rotate(-90)" font-family='"Liberation Serif", serif' font-size="18.3" text-anchor="middle" textLength="123" lengthAdjust="spacingAndGlyphs">Parameter Value</text>
<rect x="89.2" y="748.1" width="119.9" height="129.4" rx="3.5" fill="#fff" fill-opacity="0.8" stroke="#d4d4d4" stroke-width="1"/>
<path d="M94.7 758.60H122.2" stroke="#ff7f0e" stroke-width="2.8" stroke-linecap="square"/>
<text x="133.8" y="764.10" font-family='"Liberation Serif", serif' font-size="13.8" textLength="46.6" lengthAdjust="spacingAndGlyphs">Beta (<tspan font-family='"Liberation Sans", sans-serif' font-style="italic">β</tspan>)</text>
<path d="M94.7 779.54H122.2" stroke="#2ca02c" stroke-width="2.8" stroke-dasharray="19.2 4.8 3 4.8"/>
<text x="133.8" y="785.04" font-family='"Liberation Serif", serif' font-size="13.8" textLength="58.8" lengthAdjust="spacingAndGlyphs">Alpha (<tspan font-family='"Liberation Sans", sans-serif' font-style="italic">α</tspan>)</text>
<path d="M94.7 800.48H122.2" stroke="#d62728" stroke-width="2.8" stroke-linecap="square"/>
<text x="133.8" y="805.98" font-family='"Liberation Serif", serif' font-size="13.8" textLength="68.2" lengthAdjust="spacingAndGlyphs">Gamma (<tspan font-family='"Liberation Sans", sans-serif' font-style="italic">γ</tspan>)</text>
<path d="M94.7 821.42H122.2" stroke="#9467bd" stroke-width="2.8" stroke-dasharray="19.2 4.8 3 4.8"/>
<text x="133.8" y="826.92" font-family='"Liberation Serif", serif' font-size="13.8" textLength="52.7" lengthAdjust="spacingAndGlyphs">Delta (<tspan font-family='"Liberation Sans", sans-serif' font-style="italic">δ</tspan>)</text>
<path d="M94.7 842.36H122.2" stroke="#8c564b" stroke-width="2.8" stroke-linecap="square"/>
<text x="133.8" y="847.86" font-family='"Liberation Serif", serif' font-size="13.8" textLength="69.7" lengthAdjust="spacingAndGlyphs">Lambda (<tspan font-family='"Liberation Sans", sans-serif' font-style="italic">λ</tspan>)</text>
<path d="M94.7 863.30H122.2" stroke="#e377c2" stroke-width="2.8" stroke-dasharray="19.2 4.8 3 4.8"/>
<text x="133.8" y="868.80" font-family='"Liberation Serif", serif' font-size="13.8" textLength="59.8" lengthAdjust="spacingAndGlyphs">Kappa (<tspan font-family='"Liberation Sans", sans-serif' font-style="italic">κ</tspan>)</text>
<clipPath id="clip4"><rect x="82.5" y="1060.6" width="273" height="266"/></clipPath>
<path d="M94.90 1060.6V1326.6M188.66 1060.6V1326.6M282.42 1060.6V1326.6M82.5 1316.50H355.5M82.5 1263.90H355.5M82.5 1211.30H355.5M82.5 1158.70H355.5M82.5 1106.10H355.5" stroke="#b0b0b0" stroke-width="1.7" fill="none" clip-path="url(#clip4)"/>
<g clip-path="url(#clip4)" fill="none" stroke-width="2.8">
<path d="M94.90 1110.27 L96.99 1112.38 L99.08 1114.41 L101.16 1116.36 L103.25 1118.23 L105.34 1120.03 L107.43 1121.76 L109.52 1123.41 L111.60 1124.99 L113.69 1126.50 L115.78 1127.94 L117.87 1129.32 L119.96 1130.63 L122.04 1131.88 L124.13 1133.07 L126.22 1134.20 L128.31 1135.27 L130.39 1136.28 L132.48 1137.24 L134.57 1138.15 L136.66 1139.01 L138.75 1139.82 L140.83 1140.57 L142.92 1141.29 L145.01 1141.95 L147.10 1142.58 L149.19 1143.16 L151.27 1143.71 L153.36 1144.21 L155.45 1144.68 L157.54 1145.11 L159.63 1145.51 L161.71 1145.88 L163.80 1146.22 L165.89 1146.53 L167.98 1146.82 L170.07 1147.08 L172.15 1147.31 L174.24 1147.53 L176.33 1147.72 L178.42 1147.90 L180.51 1148.06 L182.59 1148.20 L184.68 1148.33 L186.77 1148.45 L188.86 1148.56 L190.94 1148.66 L193.03 1148.75 L195.12 1148.84 L197.21 1148.93 L199.30 1149.01 L201.38 1149.09 L203.47 1149.17 L205.56 1149.26 L207.65 1149.35 L209.74 1149.45 L211.82 1149.55 L213.91 1149.67 L216.00 1149.79 L218.09 1149.93 L220.18 1150.09 L222.26 1150.26 L224.35 1150.44 L226.44 1150.65 L228.53 1150.88 L230.62 1151.13 L232.70 1151.40 L234.79 1151.70 L236.88 1152.03 L238.97 1152.39 L241.06 1152.77 L243.14 1153.19 L245.23 1153.65 L247.32 1154.14 L249.41 1154.67 L251.49 1155.23 L253.58 1155.84 L255.67 1156.49 L257.76 1157.19 L259.85 1157.93 L261.93 1158.71 L264.02 1159.55 L266.11 1160.44 L268.20 1161.38 L270.29 1162.37 L272.37 1163.42 L274.46 1164.53 L276.55 1165.69 L278.64 1166.91 L280.73 1168.20 L282.81 1169.55 L284.90 1170.97 L286.99 1172.45 L289.08 1174.01 L291.17 1175.63 L293.25 1177.32 L295.34 1179.09 L297.43 1180.93 L299.52 1182.85 L301.61 1184.85 L303.69 1186.93 L305.78 1189.09 L307.87 1191.34 L309.96 1193.67 L312.05 1196.08 L314.13 1198.59 L316.22 1201.18 L318.31 1203.87 L320.40 1206.65 L322.48 1209.52 L324.57 1212.49 L326.66 1215.56 L328.75 1218.73 L330.84 1222.00 L332.92 1225.38 L335.01 1228.86 L337.10 1232.44 L339.19 1236.14 L341.28 1239.94 L343.36 1243.85" stroke="#ff7f0e" stroke-linecap="square" stroke-linejoin="round"/>
<path d="M94.90 1105.59 L96.99 1111.76 L99.08 1117.73 L101.16 1123.49 L103.25 1129.06 L105.34 1134.43 L107.43 1139.60 L109.52 1144.59 L111.60 1149.39 L113.69 1154.01 L115.78 1158.45 L117.87 1162.71 L119.96 1166.80 L122.04 1170.71 L124.13 1174.46 L126.22 1178.04 L128.31 1181.46 L130.39 1184.72 L132.48 1187.82 L134.57 1190.78 L136.66 1193.58 L138.75 1196.23 L140.83 1198.74 L142.92 1201.11 L145.01 1203.34 L147.10 1205.44 L149.19 1207.40 L151.27 1209.24 L153.36 1210.95 L155.45 1212.54 L157.54 1214.00 L159.63 1215.35 L161.71 1216.59 L163.80 1217.72 L165.89 1218.74 L167.98 1219.65 L170.07 1220.47 L172.15 1221.18 L174.24 1221.80 L176.33 1222.33 L178.42 1222.77 L180.51 1223.12 L182.59 1223.39 L184.68 1223.57 L186.77 1223.69 L188.86 1223.72 L190.94 1223.69 L193.03 1223.59 L195.12 1223.42 L197.21 1223.19 L199.30 1222.90 L201.38 1222.56 L203.47 1222.16 L205.56 1221.71 L207.65 1221.22 L209.74 1220.68 L211.82 1220.10 L213.91 1219.49 L216.00 1218.83 L218.09 1218.15 L220.18 1217.44 L222.26 1216.70 L224.35 1215.95 L226.44 1215.17 L228.53 1214.37 L230.62 1213.56 L232.70 1212.74 L234.79 1211.92 L236.88 1211.09 L238.97 1210.26 L241.06 1209.42 L243.14 1208.60 L245.23 1207.78 L247.32 1206.97 L249.41 1206.18 L251.49 1205.41 L253.58 1204.65 L255.67 1203.92 L257.76 1203.21 L259.85 1202.53 L261.93 1201.89 L264.02 1201.28 L266.11 1200.70 L268.20 1200.17 L270.29 1199.68 L272.37 1199.24 L274.46 1198.85 L276.55 1198.52 L278.64 1198.24 L280.73 1198.02 L282.81 1197.86 L284.90 1197.77 L286.99 1197.74 L289.08 1197.79 L291.17 1197.91 L293.25 1198.11 L295.34 1198.39 L297.43 1198.76 L299.52 1199.21 L301.61 1199.75 L303.69 1200.38 L305.78 1201.11 L307.87 1201.94 L309.96 1202.87 L312.05 1203.91 L314.13 1205.05 L316.22 1206.30 L318.31 1207.67 L320.40 1209.16 L322.48 1210.76 L324.57 1212.49 L326.66 1214.35 L328.75 1216.33 L330.84 1218.45 L332.92 1220.70 L335.01 1223.09 L337.10 1225.62 L339.19 1228.30 L341.28 1231.12 L343.36 1234.09" stroke="#2ca02c" stroke-dasharray="19.2 4.8 3 4.8" stroke-linecap="butt" stroke-linejoin="round"/>
<path d="M94.90 1157.02 L96.99 1163.41 L99.08 1169.51 L101.16 1175.31 L103.25 1180.83 L105.34 1186.06 L107.43 1191.01 L109.52 1195.69 L111.60 1200.10 L113.69 1204.24 L115.78 1208.13 L117.87 1211.75 L119.96 1215.13 L122.04 1218.26 L124.13 1221.15 L126.22 1223.80 L128.31 1226.21 L130.39 1228.40 L132.48 1230.37 L134.57 1232.12 L136.66 1233.66 L138.75 1234.98 L140.83 1236.10 L142.92 1237.02 L145.01 1237.75 L147.10 1238.28 L149.19 1238.63 L151.27 1238.80 L153.36 1238.79 L155.45 1238.61 L157.54 1238.26 L159.63 1237.75 L161.71 1237.08 L163.80 1236.26 L165.89 1235.29 L167.98 1234.17 L170.07 1232.92 L172.15 1231.53 L174.24 1230.01 L176.33 1228.36 L178.42 1226.60 L180.51 1224.72 L182.59 1222.72 L184.68 1220.62 L186.77 1218.42 L188.86 1216.12 L190.94 1213.72 L193.03 1211.24 L195.12 1208.68 L197.21 1206.03 L199.30 1203.31 L201.38 1200.53 L203.47 1197.67 L205.56 1194.76 L207.65 1191.79 L209.74 1188.77 L211.82 1185.70 L213.91 1182.59 L216.00 1179.45 L218.09 1176.27 L220.18 1173.06 L222.26 1169.83 L224.35 1166.58 L226.44 1163.32 L228.53 1160.05 L230.62 1156.78 L232.70 1153.50 L234.79 1150.23 L236.88 1146.97 L238.97 1143.72 L241.06 1140.49 L243.14 1137.29 L245.23 1134.11 L247.32 1130.96 L249.41 1127.86 L251.49 1124.79 L253.58 1121.77 L255.67 1118.80 L257.76 1115.89 L259.85 1113.04 L261.93 1110.25 L264.02 1107.54 L266.11 1104.90 L268.20 1102.33 L270.29 1099.85 L272.37 1097.46 L274.46 1095.17 L276.55 1092.97 L278.64 1090.87 L280.73 1088.88 L282.81 1087.00 L284.90 1085.24 L286.99 1083.60 L289.08 1082.08 L291.17 1080.70 L293.25 1079.45 L295.34 1078.34 L297.43 1077.37 L299.52 1076.56 L301.61 1075.89 L303.69 1075.39 L305.78 1075.04 L307.87 1074.87 L309.96 1074.87 L312.05 1075.04 L314.13 1075.40 L316.22 1075.94 L318.31 1076.67 L320.40 1077.60 L322.48 1078.73 L324.57 1080.06 L326.66 1081.60 L328.75 1083.36 L330.84 1085.33 L332.92 1087.53 L335.01 1089.96 L337.10 1092.62 L339.19 1095.51 L341.28 1098.65 L343.36 1102.03" stroke="#d62728" stroke-linecap="square" stroke-linejoin="round"/>
<path d="M94.90 1212.43 L96.99 1212.15 L99.08 1211.88 L101.16 1211.62 L103.25 1211.37 L105.34 1211.14 L107.43 1210.91 L109.52 1210.70 L111.60 1210.50 L113.69 1210.30 L115.78 1210.12 L117.87 1209.95 L119.96 1209.78 L122.04 1209.63 L124.13 1209.48 L126.22 1209.35 L128.31 1209.22 L130.39 1209.10 L132.48 1208.99 L134.57 1208.89 L136.66 1208.80 L138.75 1208.71 L140.83 1208.63 L142.92 1208.56 L145.01 1208.50 L147.10 1208.45 L149.19 1208.40 L151.27 1208.35 L153.36 1208.32 L155.45 1208.29 L157.54 1208.27 L159.63 1208.25 L161.71 1208.24 L163.80 1208.23 L165.89 1208.23 L167.98 1208.23 L170.07 1208.24 L172.15 1208.25 L174.24 1208.27 L176.33 1208.29 L178.42 1208.32 L180.51 1208.35 L182.59 1208.38 L184.68 1208.42 L186.77 1208.46 L188.86 1208.50 L190.94 1208.55 L193.03 1208.60 L195.12 1208.65 L197.21 1208.70 L199.30 1208.75 L201.38 1208.81 L203.47 1208.87 L205.56 1208.93 L207.65 1208.99 L209.74 1209.05 L211.82 1209.12 L213.91 1209.18 L216.00 1209.24 L218.09 1209.31 L220.18 1209.37 L222.26 1209.44 L224.35 1209.50 L226.44 1209.56 L228.53 1209.62 L230.62 1209.68 L232.70 1209.74 L234.79 1209.80 L236.88 1209.86 L238.97 1209.91 L241.06 1209.97 L243.14 1210.02 L245.23 1210.06 L247.32 1210.11 L249.41 1210.15 L251.49 1210.19 L253.58 1210.23 L255.67 1210.26 L257.76 1210.29 L259.85 1210.31 L261.93 1210.33 L264.02 1210.35 L266.11 1210.36 L268.20 1210.37 L270.29 1210.37 L272.37 1210.37 L274.46 1210.36 L276.55 1210.35 L278.64 1210.33 L280.73 1210.31 L282.81 1210.28 L284.90 1210.24 L286.99 1210.19 L289.08 1210.14 L291.17 1210.09 L293.25 1210.02 L295.34 1209.95 L297.43 1209.87 L299.52 1209.78 L301.61 1209.69 L303.69 1209.59 L305.78 1209.47 L307.87 1209.35 L309.96 1209.23 L312.05 1209.09 L314.13 1208.94 L316.22 1208.79 L318.31 1208.62 L320.40 1208.44 L322.48 1208.26 L324.57 1208.06 L326.66 1207.86 L328.75 1207.64 L330.84 1207.41 L332.92 1207.18 L335.01 1206.93 L337.10 1206.67 L339.19 1206.39 L341.28 1206.11 L343.36 1205.81" stroke="#9467bd" stroke-dasharray="19.2 4.8 3 4.8" stroke-linecap="butt" stroke-linejoin="round"/>
<path d="M94.90 1121.63 L96.99 1129.14 L99.08 1136.26 L101.16 1142.99 L103.25 1149.34 L105.34 1155.33 L107.43 1160.95 L109.52 1166.21 L111.60 1171.12 L113.69 1175.70 L115.78 1179.94 L117.87 1183.86 L119.96 1187.45 L122.04 1190.74 L124.13 1193.72 L126.22 1196.41 L128.31 1198.81 L130.39 1200.93 L132.48 1202.78 L134.57 1204.36 L136.66 1205.68 L138.75 1206.75 L140.83 1207.58 L142.92 1208.18 L145.01 1208.54 L147.10 1208.69 L149.19 1208.62 L151.27 1208.35 L153.36 1207.88 L155.45 1207.22 L157.54 1206.38 L159.63 1205.36 L161.71 1204.17 L163.80 1202.83 L165.89 1201.33 L167.98 1199.68 L170.07 1197.90 L172.15 1195.99 L174.24 1193.95 L176.33 1191.80 L178.42 1189.54 L180.51 1187.19 L182.59 1184.74 L184.68 1182.20 L186.77 1179.59 L188.86 1176.90 L190.94 1174.16 L193.03 1171.36 L195.12 1168.51 L197.21 1165.62 L199.30 1162.70 L201.38 1159.76 L203.47 1156.79 L205.56 1153.82 L207.65 1150.85 L209.74 1147.88 L211.82 1144.92 L213.91 1141.98 L216.00 1139.08 L218.09 1136.20 L220.18 1133.37 L222.26 1130.59 L224.35 1127.87 L226.44 1125.21 L228.53 1122.63 L230.62 1120.12 L232.70 1117.71 L234.79 1115.38 L236.88 1113.17 L238.97 1111.06 L241.06 1109.07 L243.14 1107.20 L245.23 1105.47 L247.32 1103.88 L249.41 1102.44 L251.49 1101.15 L253.58 1100.03 L255.67 1099.08 L257.76 1098.30 L259.85 1097.71 L261.93 1097.32 L264.02 1097.12 L266.11 1097.13 L268.20 1097.36 L270.29 1097.81 L272.37 1098.49 L274.46 1099.41 L276.55 1100.58 L278.64 1102.00 L280.73 1103.68 L282.81 1105.63 L284.90 1107.85 L286.99 1110.36 L289.08 1113.16 L291.17 1116.26 L293.25 1119.66 L295.34 1123.38 L297.43 1127.41 L299.52 1131.78 L301.61 1136.48 L303.69 1141.53 L305.78 1146.93 L307.87 1152.68 L309.96 1158.80 L312.05 1165.30 L314.13 1172.17 L316.22 1179.44 L318.31 1187.10 L320.40 1195.16 L322.48 1203.64 L324.57 1212.53 L326.66 1221.86 L328.75 1231.61 L330.84 1241.81 L332.92 1252.45 L335.01 1263.55 L337.10 1275.12 L339.19 1287.15 L341.28 1299.67 L343.36 1312.67" stroke="#8c564b" stroke-linecap="square" stroke-linejoin="round"/>
<path d="M94.90 1073.78 L96.99 1083.13 L99.08 1092.10 L101.16 1100.68 L103.25 1108.89 L105.34 1116.73 L107.43 1124.21 L109.52 1131.34 L111.60 1138.12 L113.69 1144.56 L115.78 1150.66 L117.87 1156.44 L119.96 1161.89 L122.04 1167.03 L124.13 1171.86 L126.22 1176.39 L128.31 1180.63 L130.39 1184.58 L132.48 1188.25 L134.57 1191.64 L136.66 1194.76 L138.75 1197.63 L140.83 1200.24 L142.92 1202.60 L145.01 1204.72 L147.10 1206.60 L149.19 1208.26 L151.27 1209.70 L153.36 1210.92 L155.45 1211.93 L157.54 1212.75 L159.63 1213.36 L161.71 1213.80 L163.80 1214.04 L165.89 1214.12 L167.98 1214.03 L170.07 1213.77 L172.15 1213.36 L174.24 1212.80 L176.33 1212.11 L178.42 1211.27 L180.51 1210.31 L182.59 1209.23 L184.68 1208.03 L186.77 1206.73 L188.86 1205.32 L190.94 1203.82 L193.03 1202.23 L195.12 1200.56 L197.21 1198.81 L199.30 1197.00 L201.38 1195.13 L203.47 1193.20 L205.56 1191.22 L207.65 1189.20 L209.74 1187.15 L211.82 1185.07 L213.91 1182.97 L216.00 1180.85 L218.09 1178.72 L220.18 1176.60 L222.26 1174.48 L224.35 1172.37 L226.44 1170.27 L228.53 1168.21 L230.62 1166.18 L232.70 1164.18 L234.79 1162.23 L236.88 1160.33 L238.97 1158.49 L241.06 1156.72 L243.14 1155.02 L245.23 1153.39 L247.32 1151.85 L249.41 1150.41 L251.49 1149.06 L253.58 1147.82 L255.67 1146.68 L257.76 1145.67 L259.85 1144.78 L261.93 1144.03 L264.02 1143.41 L266.11 1142.94 L268.20 1142.62 L270.29 1142.46 L272.37 1142.46 L274.46 1142.64 L276.55 1142.99 L278.64 1143.53 L280.73 1144.26 L282.81 1145.19 L284.90 1146.32 L286.99 1147.67 L289.08 1149.23 L291.17 1151.02 L293.25 1153.05 L295.34 1155.30 L297.43 1157.81 L299.52 1160.57 L301.61 1163.58 L303.69 1166.86 L305.78 1170.41 L307.87 1174.24 L309.96 1178.36 L312.05 1182.77 L314.13 1187.47 L316.22 1192.48 L318.31 1197.80 L320.40 1203.44 L322.48 1209.41 L324.57 1215.71 L326.66 1222.34 L328.75 1229.32 L330.84 1236.65 L332.92 1244.34 L335.01 1252.40 L337.10 1260.83 L339.19 1269.63 L341.28 1278.82 L343.36 1288.41" stroke="#e377c2" stroke-dasharray="19.2 4.8 3 4.8" stroke-linecap="butt" stroke-linejoin="round"/>
</g>
<rect x="82.5" y="1060.6" width="273" height="266" fill="none" stroke="#111" stroke-width="1.35"/>
<path d="M94.90 1326.6v5M188.66 1326.6v5M282.42 1326.6v5M82.5 1316.50h-5M82.5 1263.90h-5M82.5 1211.30h-5M82.5 1158.70h-5M82.5 1106.10h-5" stroke="#000" stroke-width="1.45"/>
<text x="94.90" y="1360.60" font-family='"Liberation Serif", serif' font-size="20.6" text-anchor="middle">0</text>
<text x="188.66" y="1360.60" font-family='"Liberation Serif", serif' font-size="20.6" text-anchor="middle">100</text>
<text x="282.42" y="1360.60" font-family='"Liberation Serif", serif' font-size="20.6" text-anchor="middle">200</text>
<text x="62.50" y="1323.80" font-family='"Liberation Serif", serif' font-size="20.6" text-anchor="end" textLength="34.2" lengthAdjust="spacingAndGlyphs">−0.4</text>
<text x="62.50" y="1271.20" font-family='"Liberation Serif", serif' font-size="20.6" text-anchor="end" textLength="34.2" lengthAdjust="spacingAndGlyphs">−0.2</text>
<text x="62.50" y="1218.60" font-family='"Liberation Serif", serif' font-size="20.6" text-anchor="end">0.0</text>
<text x="62.50" y="1166.00" font-family='"Liberation Serif", serif' font-size="20.6" text-anchor="end">0.2</text>
<text x="62.50" y="1113.40" font-family='"Liberation Serif", serif' font-size="20.6" text-anchor="end">0.4</text>
<text transform="translate(18.3,1193.6) rotate(-90)" font-family='"Liberation Serif", serif' font-size="18.3" text-anchor="middle" textLength="123" lengthAdjust="spacingAndGlyphs">Parameter Value</text>
<text x="219.5" y="1382.90" font-family='"Liberation Serif", serif' font-size="16.1" text-anchor="middle" textLength="80" lengthAdjust="spacingAndGlyphs">Time (days)</text>
<rect x="89.2" y="1067.6999999999998" width="119.9" height="129.4" rx="3.5" fill="#fff" fill-opacity="0.8" stroke="#d4d4d4" stroke-width="1"/>
<path d="M94.7 1078.20H122.2" stroke="#ff7f0e" stroke-width="2.8" stroke-linecap="square"/>
<text x="133.8" y="1083.70" font-family='"Liberation Serif", serif' font-size="13.8" textLength="46.6" lengthAdjust="spacingAndGlyphs">Beta (<tspan font-family='"Liberation Sans", sans-serif' font-style="italic">β</tspan>)</text>
<path d="M94.7 1099.14H122.2" stroke="#2ca02c" stroke-width="2.8" stroke-dasharray="19.2 4.8 3 4.8"/>
<text x="133.8" y="1104.64" font-family='"Liberation Serif", serif' font-size="13.8" textLength="58.8" lengthAdjust="spacingAndGlyphs">Alpha (<tspan font-family='"Liberation Sans", sans-serif' font-style="italic">α</tspan>)</text>
<path d="M94.7 1120.08H122.2" stroke="#d62728" stroke-width="2.8" stroke-linecap="square"/>
<text x="133.8" y="1125.58" font-family='"Liberation Serif", serif' font-size="13.8" textLength="68.2" lengthAdjust="spacingAndGlyphs">Gamma (<tspan font-family='"Liberation Sans", sans-serif' font-style="italic">γ</tspan>)</text>
<path d="M94.7 1141.02H122.2" stroke="#9467bd" stroke-width="2.8" stroke-dasharray="19.2 4.8 3 4.8"/>
<text x="133.8" y="1146.52" font-family='"Liberation Serif", serif' font-size="13.8" textLength="52.7" lengthAdjust="spacingAndGlyphs">Delta (<tspan font-family='"Liberation Sans", sans-serif' font-style="italic">δ</tspan>)</text>
<path d="M94.7 1161.96H122.2" stroke="#8c564b" stroke-width="2.8" stroke-linecap="square"/>
<text x="133.8" y="1167.46" font-family='"Liberation Serif", serif' font-size="13.8" textLength="69.7" lengthAdjust="spacingAndGlyphs">Lambda (<tspan font-family='"Liberation Sans", sans-serif' font-style="italic">λ</tspan>)</text>
<path d="M94.7 1182.90H122.2" stroke="#e377c2" stroke-width="2.8" stroke-dasharray="19.2 4.8 3 4.8"/>
<text x="133.8" y="1188.40" font-family='"Liberation Serif", serif' font-size="13.8" textLength="59.8" lengthAdjust="spacingAndGlyphs">Kappa (<tspan font-family='"Liberation Sans", sans-serif' font-style="italic">κ</tspan>)</text>
<path d="M424.5 82.0H670.1M424.5 82.0V294.6M547.6 82.0V294.6M670.1 82.0V294.6M395.8 112.3V294.6M395.8 112.30H670.1M395.8 142.68H670.1M395.8 173.07H670.1M395.8 203.45H670.1M395.8 233.83H670.1M395.8 264.22H670.1M395.8 294.60H670.1" stroke="#6e6e6e" stroke-width="1.5" fill="none"/>
<text x="486.05" y="101.75" font-family='"Liberation Serif", serif' font-weight="bold" font-size="18.9" text-anchor="middle" textLength="36.3" lengthAdjust="spacingAndGlyphs">Max</text>
<text x="608.85" y="101.75" font-family='"Liberation Serif", serif' font-weight="bold" font-size="18.9" text-anchor="middle" textLength="35.8" lengthAdjust="spacingAndGlyphs">Min</text>
<text x="486.05" y="132.09" font-family='"Liberation Serif", serif' font-size="19.3" text-anchor="middle" textLength="50.05" lengthAdjust="spacingAndGlyphs">0.9991</text>
<text x="608.85" y="132.09" font-family='"Liberation Serif", serif' font-size="19.3" text-anchor="middle" textLength="50.05" lengthAdjust="spacingAndGlyphs">0.1491</text>
<text x="410.45" y="132.09" font-family='"Liberation Sans", sans-serif' font-size="18.5" text-anchor="middle">(<tspan font-style="italic">β</tspan>)</text>
<text x="486.05" y="162.47" font-family='"Liberation Serif", serif' font-size="19.3" text-anchor="middle" textLength="50.05" lengthAdjust="spacingAndGlyphs">0.6083</text>
<text x="608.85" y="162.47" font-family='"Liberation Serif", serif' font-size="19.3" text-anchor="middle" textLength="50.05" lengthAdjust="spacingAndGlyphs">0.0147</text>
<text x="410.45" y="162.47" font-family='"Liberation Sans", sans-serif' font-size="18.5" text-anchor="middle">(<tspan font-style="italic">α</tspan>)</text>
<text x="486.05" y="192.86" font-family='"Liberation Serif", serif' font-size="19.3" text-anchor="middle" textLength="50.05" lengthAdjust="spacingAndGlyphs">0.0256</text>
<text x="608.85" y="192.86" font-family='"Liberation Serif", serif' font-size="19.3" text-anchor="middle" textLength="50.05" lengthAdjust="spacingAndGlyphs">0.0022</text>
<text x="410.45" y="192.86" font-family='"Liberation Sans", sans-serif' font-size="18.5" text-anchor="middle">(<tspan font-style="italic">γ</tspan>)</text>
<text x="486.05" y="223.24" font-family='"Liberation Serif", serif' font-size="19.3" text-anchor="middle" textLength="50.05" lengthAdjust="spacingAndGlyphs">0.0165</text>
<text x="608.85" y="223.24" font-family='"Liberation Serif", serif' font-size="19.3" text-anchor="middle" textLength="50.05" lengthAdjust="spacingAndGlyphs">0.0035</text>
<text x="410.45" y="223.24" font-family='"Liberation Sans", sans-serif' font-size="18.5" text-anchor="middle">(<tspan font-style="italic">δ</tspan>)</text>
<text x="486.05" y="253.62" font-family='"Liberation Serif", serif' font-size="19.3" text-anchor="middle" textLength="50.05" lengthAdjust="spacingAndGlyphs">0.9245</text>
<text x="608.85" y="253.62" font-family='"Liberation Serif", serif' font-size="19.3" text-anchor="middle" textLength="50.05" lengthAdjust="spacingAndGlyphs">0.1296</text>
<text x="410.45" y="253.62" font-family='"Liberation Sans", sans-serif' font-size="18.5" text-anchor="middle">(<tspan font-style="italic">λ</tspan>)</text>
<text x="486.05" y="284.01" font-family='"Liberation Serif", serif' font-size="19.3" text-anchor="middle" textLength="50.05" lengthAdjust="spacingAndGlyphs">0.4609</text>
<text x="608.85" y="284.01" font-family='"Liberation Serif", serif' font-size="19.3" text-anchor="middle" textLength="50.05" lengthAdjust="spacingAndGlyphs">0.0013</text>
<text x="410.45" y="284.01" font-family='"Liberation Sans", sans-serif' font-size="18.5" text-anchor="middle">(<tspan font-style="italic">κ</tspan>)</text>
<path d="M424.5 401.5H670.1M424.5 401.5V614.3M547.6 401.5V614.3M670.1 401.5V614.3M395.8 431.8V614.3M395.8 431.80H670.1M395.8 462.22H670.1M395.8 492.63H670.1M395.8 523.05H670.1M395.8 553.47H670.1M395.8 583.88H670.1M395.8 614.30H670.1" stroke="#6e6e6e" stroke-width="1.5" fill="none"/>
<text x="486.05" y="421.25" font-family='"Liberation Serif", serif' font-weight="bold" font-size="18.9" text-anchor="middle" textLength="36.3" lengthAdjust="spacingAndGlyphs">Max</text>
<text x="608.85" y="421.25" font-family='"Liberation Serif", serif' font-weight="bold" font-size="18.9" text-anchor="middle" textLength="35.8" lengthAdjust="spacingAndGlyphs">Min</text>
<text x="486.05" y="451.61" font-family='"Liberation Serif", serif' font-size="19.3" text-anchor="middle" textLength="50.05" lengthAdjust="spacingAndGlyphs">0.9991</text>
<text x="608.85" y="451.61" font-family='"Liberation Serif", serif' font-size="19.3" text-anchor="middle" textLength="50.05" lengthAdjust="spacingAndGlyphs">0.1491</text>
<text x="410.45" y="451.61" font-family='"Liberation Sans", sans-serif' font-size="18.5" text-anchor="middle">(<tspan font-style="italic">β</tspan>)</text>
<text x="486.05" y="482.03" font-family='"Liberation Serif", serif' font-size="19.3" text-anchor="middle" textLength="50.05" lengthAdjust="spacingAndGlyphs">0.6083</text>
<text x="608.85" y="482.03" font-family='"Liberation Serif", serif' font-size="19.3" text-anchor="middle" textLength="50.05" lengthAdjust="spacingAndGlyphs">0.0147</text>
<text x="410.45" y="482.03" font-family='"Liberation Sans", sans-serif' font-size="18.5" text-anchor="middle">(<tspan font-style="italic">α</tspan>)</text>
<text x="486.05" y="512.44" font-family='"Liberation Serif", serif' font-size="19.3" text-anchor="middle" textLength="50.05" lengthAdjust="spacingAndGlyphs">0.7965</text>
<text x="608.85" y="512.44" font-family='"Liberation Serif", serif' font-size="19.3" text-anchor="middle" textLength="50.05" lengthAdjust="spacingAndGlyphs">0.0022</text>
<text x="410.45" y="512.44" font-family='"Liberation Sans", sans-serif' font-size="18.5" text-anchor="middle">(<tspan font-style="italic">γ</tspan>)</text>
<text x="486.05" y="542.86" font-family='"Liberation Serif", serif' font-size="19.3" text-anchor="middle" textLength="50.05" lengthAdjust="spacingAndGlyphs">0.0165</text>
<text x="608.85" y="542.86" font-family='"Liberation Serif", serif' font-size="19.3" text-anchor="middle" textLength="50.05" lengthAdjust="spacingAndGlyphs">0.0031</text>
<text x="410.45" y="542.86" font-family='"Liberation Sans", sans-serif' font-size="18.5" text-anchor="middle">(<tspan font-style="italic">δ</tspan>)</text>
<text x="486.05" y="573.27" font-family='"Liberation Serif", serif' font-size="19.3" text-anchor="middle" textLength="50.05" lengthAdjust="spacingAndGlyphs">0.9866</text>
<text x="608.85" y="573.27" font-family='"Liberation Serif", serif' font-size="19.3" text-anchor="middle" textLength="50.05" lengthAdjust="spacingAndGlyphs">0.1296</text>
<text x="410.45" y="573.27" font-family='"Liberation Sans", sans-serif' font-size="18.5" text-anchor="middle">(<tspan font-style="italic">λ</tspan>)</text>
<text x="486.05" y="603.69" font-family='"Liberation Serif", serif' font-size="19.3" text-anchor="middle" textLength="50.05" lengthAdjust="spacingAndGlyphs">0.4609</text>
<text x="608.85" y="603.69" font-family='"Liberation Serif", serif' font-size="19.3" text-anchor="middle" textLength="40.95" lengthAdjust="spacingAndGlyphs">0.001</text>
<text x="410.45" y="603.69" font-family='"Liberation Sans", sans-serif' font-size="18.5" text-anchor="middle">(<tspan font-style="italic">κ</tspan>)</text>
<path d="M437.7 794.5H684.1M437.7 794.5V1007.2M560.7 794.5V1007.2M684.1 794.5V1007.2M409.6 824.5V1007.2M409.6 824.50H684.1M409.6 854.95H684.1M409.6 885.40H684.1M409.6 915.85H684.1M409.6 946.30H684.1M409.6 976.75H684.1M409.6 1007.20H684.1" stroke="#6e6e6e" stroke-width="1.5" fill="none"/>
<text x="499.20" y="814.10" font-family='"Liberation Serif", serif' font-weight="bold" font-size="18.9" text-anchor="middle" textLength="36.3" lengthAdjust="spacingAndGlyphs">Max</text>
<text x="622.40" y="814.10" font-family='"Liberation Serif", serif' font-weight="bold" font-size="18.9" text-anchor="middle" textLength="35.8" lengthAdjust="spacingAndGlyphs">Min</text>
<text x="499.20" y="844.33" font-family='"Liberation Serif", serif' font-size="19.3" text-anchor="middle" textLength="50.05" lengthAdjust="spacingAndGlyphs">0.7417</text>
<text x="622.40" y="844.33" font-family='"Liberation Serif", serif' font-size="19.3" text-anchor="middle" textLength="40.95" lengthAdjust="spacingAndGlyphs">0.047</text>
<text x="423.95" y="844.33" font-family='"Liberation Sans", sans-serif' font-size="18.5" text-anchor="middle">(<tspan font-style="italic">β</tspan>)</text>
<text x="499.20" y="874.77" font-family='"Liberation Serif", serif' font-size="19.3" text-anchor="middle" textLength="50.05" lengthAdjust="spacingAndGlyphs">0.9102</text>
<text x="622.40" y="874.77" font-family='"Liberation Serif", serif' font-size="19.3" text-anchor="middle" textLength="22.75" lengthAdjust="spacingAndGlyphs">0.0</text>
<text x="423.95" y="874.77" font-family='"Liberation Sans", sans-serif' font-size="18.5" text-anchor="middle">(<tspan font-style="italic">α</tspan>)</text>
<text x="499.20" y="905.23" font-family='"Liberation Serif", serif' font-size="19.3" text-anchor="middle" textLength="50.05" lengthAdjust="spacingAndGlyphs">0.0132</text>
<text x="622.40" y="905.23" font-family='"Liberation Serif", serif' font-size="19.3" text-anchor="middle" textLength="50.05" lengthAdjust="spacingAndGlyphs">0.0015</text>
<text x="423.95" y="905.23" font-family='"Liberation Sans", sans-serif' font-size="18.5" text-anchor="middle">(<tspan font-style="italic">γ</tspan>)</text>
<text x="499.20" y="935.68" font-family='"Liberation Serif", serif' font-size="19.3" text-anchor="middle" textLength="50.05" lengthAdjust="spacingAndGlyphs">0.0145</text>
<text x="622.40" y="935.68" font-family='"Liberation Serif", serif' font-size="19.3" text-anchor="middle" textLength="50.05" lengthAdjust="spacingAndGlyphs">0.0001</text>
<text x="423.95" y="935.68" font-family='"Liberation Sans", sans-serif' font-size="18.5" text-anchor="middle">(<tspan font-style="italic">δ</tspan>)</text>
<text x="499.20" y="966.13" font-family='"Liberation Serif", serif' font-size="19.3" text-anchor="middle" textLength="50.05" lengthAdjust="spacingAndGlyphs">0.9906</text>
<text x="622.40" y="966.13" font-family='"Liberation Serif", serif' font-size="19.3" text-anchor="middle" textLength="40.95" lengthAdjust="spacingAndGlyphs">0.001</text>
<text x="423.95" y="966.13" font-family='"Liberation Sans", sans-serif' font-size="18.5" text-anchor="middle">(<tspan font-style="italic">λ</tspan>)</text>
<text x="499.20" y="996.58" font-family='"Liberation Serif", serif' font-size="19.3" text-anchor="middle" textLength="50.05" lengthAdjust="spacingAndGlyphs">0.9786</text>
<text x="622.40" y="996.58" font-family='"Liberation Serif", serif' font-size="19.3" text-anchor="middle" textLength="50.05" lengthAdjust="spacingAndGlyphs">0.0001</text>
<text x="423.95" y="996.58" font-family='"Liberation Sans", sans-serif' font-size="18.5" text-anchor="middle">(<tspan font-style="italic">κ</tspan>)</text>
<path d="M437.9 1113.9H684.1M437.9 1113.9V1326.3M560.7 1113.9V1326.3M684.1 1113.9V1326.3M409.5 1144.2V1326.3M409.5 1144.20H684.1M409.5 1174.55H684.1M409.5 1204.90H684.1M409.5 1235.25H684.1M409.5 1265.60H684.1M409.5 1295.95H684.1M409.5 1326.30H684.1" stroke="#6e6e6e" stroke-width="1.5" fill="none"/>
<text x="499.30" y="1133.65" font-family='"Liberation Serif", serif' font-weight="bold" font-size="18.9" text-anchor="middle" textLength="36.3" lengthAdjust="spacingAndGlyphs">Max</text>
<text x="622.40" y="1133.65" font-family='"Liberation Serif", serif' font-weight="bold" font-size="18.9" text-anchor="middle" textLength="35.8" lengthAdjust="spacingAndGlyphs">Min</text>
<text x="499.30" y="1163.97" font-family='"Liberation Serif", serif' font-size="19.3" text-anchor="middle" textLength="50.05" lengthAdjust="spacingAndGlyphs">0.8489</text>
<text x="622.40" y="1163.97" font-family='"Liberation Serif", serif' font-size="19.3" text-anchor="middle" textLength="50.05" lengthAdjust="spacingAndGlyphs">0.0142</text>
<text x="424.00" y="1163.97" font-family='"Liberation Sans", sans-serif' font-size="18.5" text-anchor="middle">(<tspan font-style="italic">β</tspan>)</text>
<text x="499.30" y="1194.32" font-family='"Liberation Serif", serif' font-size="19.3" text-anchor="middle" textLength="50.05" lengthAdjust="spacingAndGlyphs">0.9102</text>
<text x="622.40" y="1194.32" font-family='"Liberation Serif", serif' font-size="19.3" text-anchor="middle" textLength="22.75" lengthAdjust="spacingAndGlyphs">0.0</text>
<text x="424.00" y="1194.32" font-family='"Liberation Sans", sans-serif' font-size="18.5" text-anchor="middle">(<tspan font-style="italic">α</tspan>)</text>
<text x="499.30" y="1224.67" font-family='"Liberation Serif", serif' font-size="19.3" text-anchor="middle" textLength="50.05" lengthAdjust="spacingAndGlyphs">0.9961</text>
<text x="622.40" y="1224.67" font-family='"Liberation Serif", serif' font-size="19.3" text-anchor="middle" textLength="50.05" lengthAdjust="spacingAndGlyphs">0.0015</text>
<text x="424.00" y="1224.67" font-family='"Liberation Sans", sans-serif' font-size="18.5" text-anchor="middle">(<tspan font-style="italic">γ</tspan>)</text>
<text x="499.30" y="1255.02" font-family='"Liberation Serif", serif' font-size="19.3" text-anchor="middle" textLength="50.05" lengthAdjust="spacingAndGlyphs">0.0145</text>
<text x="622.40" y="1255.02" font-family='"Liberation Serif", serif' font-size="19.3" text-anchor="middle" textLength="50.05" lengthAdjust="spacingAndGlyphs">0.0001</text>
<text x="424.00" y="1255.02" font-family='"Liberation Sans", sans-serif' font-size="18.5" text-anchor="middle">(<tspan font-style="italic">δ</tspan>)</text>
<text x="499.30" y="1285.38" font-family='"Liberation Serif", serif' font-size="19.3" text-anchor="middle" textLength="50.05" lengthAdjust="spacingAndGlyphs">0.9906</text>
<text x="622.40" y="1285.38" font-family='"Liberation Serif", serif' font-size="19.3" text-anchor="middle" textLength="50.05" lengthAdjust="spacingAndGlyphs">0.0008</text>
<text x="424.00" y="1285.38" font-family='"Liberation Sans", sans-serif' font-size="18.5" text-anchor="middle">(<tspan font-style="italic">λ</tspan>)</text>
<text x="499.30" y="1315.72" font-family='"Liberation Serif", serif' font-size="19.3" text-anchor="middle" textLength="50.05" lengthAdjust="spacingAndGlyphs">0.9786</text>
<text x="622.40" y="1315.72" font-family='"Liberation Serif", serif' font-size="19.3" text-anchor="middle" textLength="50.05" lengthAdjust="spacingAndGlyphs">0.0001</text>
<text x="424.00" y="1315.72" font-family='"Liberation Sans", sans-serif' font-size="18.5" text-anchor="middle">(<tspan font-style="italic">κ</tspan>)</text>
<text x="534.00" y="18.8" font-family='"Liberation Serif", serif' font-size="24.4" text-anchor="middle" textLength="268.0" lengthAdjust="spacingAndGlyphs">E-SEIR Model Parameters</text>
<text x="533.45" y="46.0" font-family='"Liberation Serif", serif' font-size="24.4" text-anchor="middle" textLength="270.3" lengthAdjust="spacingAndGlyphs">From: 2020-03-02 To 10-15</text>
<text x="533.45" y="73.1" font-family='"Liberation Serif", serif' font-size="24.4" text-anchor="middle" textLength="229.9" lengthAdjust="spacingAndGlyphs">(a) Initial Conditions I</text>
<text x="533.20" y="392.7" font-family='"Liberation Serif", serif' font-size="24.4" text-anchor="middle" textLength="239.6" lengthAdjust="spacingAndGlyphs">(b) Initial Conditions II</text>
<text x="547.70" y="730.9" font-family='"Liberation Serif", serif' font-size="24.4" text-anchor="middle" textLength="268.6" lengthAdjust="spacingAndGlyphs">E-SEIR Model Parameters</text>
<text x="547.10" y="758.4" font-family='"Liberation Serif", serif' font-size="24.4" text-anchor="middle" textLength="270.8" lengthAdjust="spacingAndGlyphs">From: 2020-01-24 To 10-15</text>
<text x="547.05" y="785.4" font-family='"Liberation Serif", serif' font-size="24.4" text-anchor="middle" textLength="229.9" lengthAdjust="spacingAndGlyphs">(a) Initial Conditions I</text>
<text x="547.20" y="1104.8" font-family='"Liberation Serif", serif' font-size="24.4" text-anchor="middle" textLength="239.6" lengthAdjust="spacingAndGlyphs">(b) Initial Conditions II</text>
<text x="5.5" y="21.8" font-family='"Liberation Sans", sans-serif' font-weight="bold" font-size="23">A</text>
<text x="3.2" y="721.8" font-family='"Liberation Sans", sans-serif' font-weight="bold" font-size="23" textLength="15.2" lengthAdjust="spacingAndGlyphs">B</text>
</svg></body></html>
